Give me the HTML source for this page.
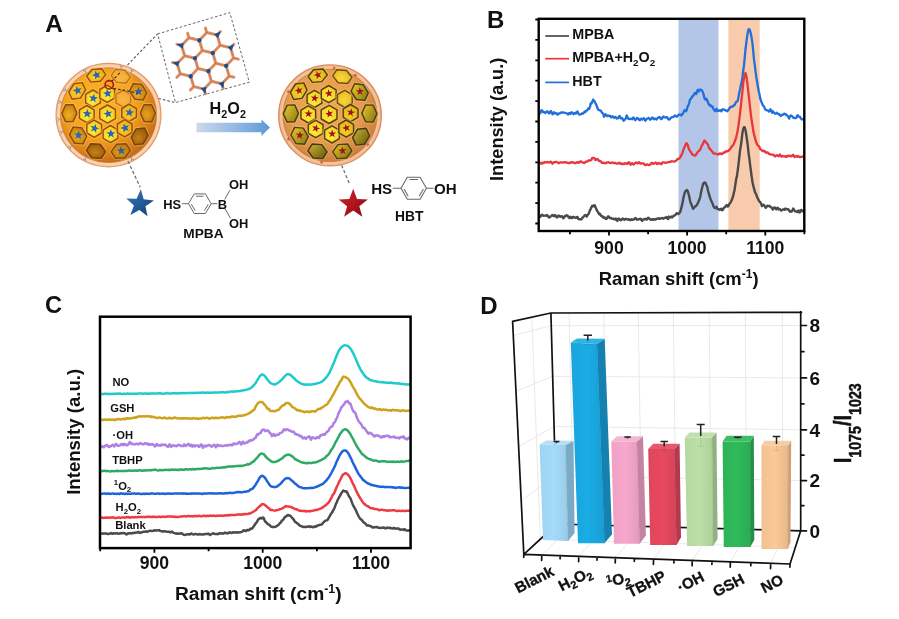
<!DOCTYPE html>
<html lang="en"><head><meta charset="utf-8"><title>Figure</title>
<style>html,body{margin:0;padding:0;background:#fff;}body{width:899px;height:619px;overflow:hidden;}svg{display:block;filter:blur(0.45px);}svg text{font-family:'Liberation Sans', sans-serif;font-weight:700;fill:#111;}</style></head><body>
<svg width="899" height="619" viewBox="0 0 899 619">
<rect width="899" height="619" fill="#fff"/>
<defs>
<radialGradient id="rim1" cx="0.5" cy="0.5" r="0.5"><stop offset="0.86" stop-color="#f3b27c"/><stop offset="0.94" stop-color="#f9d6b8"/><stop offset="1" stop-color="#f6c7a2"/></radialGradient>
<radialGradient id="rim2" cx="0.5" cy="0.5" r="0.5"><stop offset="0.86" stop-color="#e9a26c"/><stop offset="0.94" stop-color="#f4c6a0"/><stop offset="1" stop-color="#eeb48a"/></radialGradient>
<radialGradient id="body1" cx="0.42" cy="0.38" r="0.62"><stop offset="0" stop-color="#fbb622"/><stop offset="0.55" stop-color="#f6a41c"/><stop offset="0.85" stop-color="#ea8c1a"/><stop offset="1" stop-color="#dc7c1e"/></radialGradient>
<radialGradient id="body2" cx="0.45" cy="0.4" r="0.62"><stop offset="0" stop-color="#f0ac52"/><stop offset="0.6" stop-color="#e89c4c"/><stop offset="1" stop-color="#dc8b45"/></radialGradient>
<radialGradient id="shade1" cx="0.4" cy="0.36" r="0.66"><stop offset="0.6" stop-color="#7a3a00" stop-opacity="0"/><stop offset="1" stop-color="#7a3a00" stop-opacity="0.22"/></radialGradient>
<radialGradient id="shade2" cx="0.45" cy="0.4" r="0.64"><stop offset="0.6" stop-color="#7a4a10" stop-opacity="0"/><stop offset="1" stop-color="#7a4a10" stop-opacity="0.2"/></radialGradient>
<radialGradient id="hx0" cx="0.45" cy="0.6" r="0.7"><stop offset="0" stop-color="#fff238"/><stop offset="1" stop-color="#f8bc18"/></radialGradient>
<radialGradient id="hx1" cx="0.45" cy="0.6" r="0.7"><stop offset="0" stop-color="#fbd028"/><stop offset="1" stop-color="#f0a416"/></radialGradient>
<radialGradient id="hx2" cx="0.45" cy="0.6" r="0.7"><stop offset="0" stop-color="#f0b020"/><stop offset="1" stop-color="#c07810"/></radialGradient>
<radialGradient id="hx3" cx="0.45" cy="0.6" r="0.7"><stop offset="0" stop-color="#f8b840"/><stop offset="1" stop-color="#f2a42c"/></radialGradient>
<radialGradient id="hx4" cx="0.45" cy="0.6" r="0.7"><stop offset="0" stop-color="#d08c16"/><stop offset="1" stop-color="#94580c"/></radialGradient>
<radialGradient id="hy0" cx="0.45" cy="0.6" r="0.7"><stop offset="0" stop-color="#fff040"/><stop offset="1" stop-color="#f0c81c"/></radialGradient>
<radialGradient id="hy1" cx="0.45" cy="0.6" r="0.7"><stop offset="0" stop-color="#f4d62c"/><stop offset="1" stop-color="#d9aa18"/></radialGradient>
<linearGradient id="hy2" x1="0" y1="0.1" x2="1" y2="0.8"><stop offset="0" stop-color="#ecc82a"/><stop offset="1" stop-color="#8a8018"/></linearGradient>
<radialGradient id="hy3" cx="0.45" cy="0.6" r="0.7"><stop offset="0" stop-color="#f8d83a"/><stop offset="1" stop-color="#e8b41e"/></radialGradient>
<linearGradient id="hy4" x1="0" y1="0.1" x2="1" y2="0.8"><stop offset="0" stop-color="#d4b426"/><stop offset="1" stop-color="#66661a"/></linearGradient>
<linearGradient id="arr" x1="0" y1="0" x2="1" y2="0"><stop offset="0" stop-color="#ccd8ea"/><stop offset="0.45" stop-color="#9dbde4"/><stop offset="1" stop-color="#5b9bd7"/></linearGradient>
<linearGradient id="bstar" x1="0" y1="0" x2="1" y2="1"><stop offset="0" stop-color="#3876b8"/><stop offset="0.5" stop-color="#235c9c"/><stop offset="1" stop-color="#163f70"/></linearGradient>
<linearGradient id="rstar" x1="0" y1="0" x2="1" y2="1"><stop offset="0" stop-color="#d02630"/><stop offset="0.5" stop-color="#b3151e"/><stop offset="1" stop-color="#7e0a10"/></linearGradient>
</defs>
<g id="panelA">
<text x="45.2" y="31.6" font-size="24.4">A</text>
<path d="M111.5 81.5 L157.6 33.9 M113.5 88.5 L126 90.5 L175.5 102.6" stroke="#5c5c5c" stroke-width="1.15" stroke-dasharray="2.6 2" fill="none"/>
<ellipse cx="108.5" cy="115.1" rx="52.4" ry="51.7" fill="url(#rim1)" stroke="#e69a63" stroke-width="1.3"/>
<ellipse cx="108.5" cy="115.1" rx="48" ry="47.3" fill="url(#body1)"/>
<ellipse cx="108.5" cy="115.1" rx="48" ry="47.3" fill="none" stroke="#d77f3a" stroke-width="1.1" opacity="0.8"/>
<polygon points="105.8,74.6 100.3,81.3 90.8,82.1 86.6,76.2 92.1,69.5 101.6,68.7" fill="none" stroke="#f9c264" stroke-width="3.6" stroke-linejoin="round" opacity="0.6"/>
<polygon points="105.8,74.6 100.3,81.3 90.8,82.1 86.6,76.2 92.1,69.5 101.6,68.7" fill="url(#hx1)" stroke="#9a4e08" stroke-width="1.45" stroke-linejoin="round"/>
<polygon points="95,70.7 97.2,73.2 100.3,72.2 98.6,75 100.5,77.7 97.3,77 95.3,79.6 95,76.3 91.9,75.3 94.9,74" fill="#2a66ae"/>
<polygon points="130.4,77 126.2,83.2 116.6,82.4 111.2,75.6 115.4,69.4 125,70.2" fill="none" stroke="#f9c264" stroke-width="3.6" stroke-linejoin="round" opacity="0.6"/>
<polygon points="130.4,77 126.2,83.2 116.6,82.4 111.2,75.6 115.4,69.4 125,70.2" fill="url(#hx3)" stroke="#bf7420" stroke-width="1.45" stroke-linejoin="round"/>
<polygon points="85.6,89.8 80.4,98.1 72.1,99.2 68.8,92 74,83.7 82.3,82.6" fill="none" stroke="#f9c264" stroke-width="3.6" stroke-linejoin="round" opacity="0.6"/>
<polygon points="85.6,89.8 80.4,98.1 72.1,99.2 68.8,92 74,83.7 82.3,82.6" fill="url(#hx1)" stroke="#9a4e08" stroke-width="1.45" stroke-linejoin="round"/>
<polygon points="76.5,86 78.3,88.7 81.6,88.1 79.6,90.7 81.2,93.6 78.1,92.5 75.8,95 75.9,91.7 72.9,90.3 76.1,89.3" fill="#2a66ae"/>
<polygon points="100.4,102.9 93,107.2 85.6,102.9 85.6,94.3 93,90 100.4,94.3" fill="none" stroke="#f9c264" stroke-width="3.6" stroke-linejoin="round" opacity="0.6"/>
<polygon points="100.4,102.9 93,107.2 85.6,102.9 85.6,94.3 93,90 100.4,94.3" fill="url(#hx0)" stroke="#9a4e08" stroke-width="1.45" stroke-linejoin="round"/>
<polygon points="94.1,93.7 94.8,96.9 98,97.6 95.2,99.2 95.5,102.5 93.1,100.3 90.1,101.6 91.4,98.6 89.2,96.2 92.5,96.5" fill="#2a66ae"/>
<polygon points="114.6,98.1 107.2,102.4 99.8,98.1 99.8,89.5 107.2,85.2 114.6,89.5" fill="none" stroke="#f9c264" stroke-width="3.6" stroke-linejoin="round" opacity="0.6"/>
<polygon points="114.6,98.1 107.2,102.4 99.8,98.1 99.8,89.5 107.2,85.2 114.6,89.5" fill="url(#hx0)" stroke="#9a4e08" stroke-width="1.45" stroke-linejoin="round"/>
<polygon points="106.9,88.8 108.5,91.7 111.8,91.4 109.6,93.8 110.9,96.9 107.9,95.5 105.4,97.6 105.8,94.4 103,92.7 106.2,92.1" fill="#2a66ae"/>
<polygon points="130.7,102.9 123.3,107.2 115.9,102.9 115.9,94.3 123.3,90 130.7,94.3" fill="none" stroke="#f9c264" stroke-width="3.6" stroke-linejoin="round" opacity="0.6"/>
<polygon points="130.7,102.9 123.3,107.2 115.9,102.9 115.9,94.3 123.3,90 130.7,94.3" fill="url(#hx3)" stroke="#bf7420" stroke-width="1.45" stroke-linejoin="round"/>
<polygon points="146.8,92.7 143.3,100.1 134.7,99.2 129.6,90.9 133.1,83.5 141.7,84.4" fill="none" stroke="#f9c264" stroke-width="3.6" stroke-linejoin="round" opacity="0.6"/>
<polygon points="146.8,92.7 143.3,100.1 134.7,99.2 129.6,90.9 133.1,83.5 141.7,84.4" fill="url(#hx2)" stroke="#8e4a0a" stroke-width="1.45" stroke-linejoin="round"/>
<polygon points="138.4,86.8 139.7,89.8 143,89.9 140.5,92.1 141.5,95.2 138.7,93.5 136,95.4 136.7,92.2 134.1,90.2 137.4,89.9" fill="#2a66ae"/>
<polygon points="77,113.1 73.1,121.6 65.5,121.7 61.8,113.3 65.7,104.8 73.3,104.7" fill="none" stroke="#f9c264" stroke-width="3.6" stroke-linejoin="round" opacity="0.6"/>
<polygon points="77,113.1 73.1,121.6 65.5,121.7 61.8,113.3 65.7,104.8 73.3,104.7" fill="url(#hx2)" stroke="#8e4a0a" stroke-width="1.45" stroke-linejoin="round"/>
<polygon points="94.2,118.4 86.8,122.7 79.4,118.4 79.4,109.8 86.8,105.5 94.2,109.8" fill="none" stroke="#f9c264" stroke-width="3.6" stroke-linejoin="round" opacity="0.6"/>
<polygon points="94.2,118.4 86.8,122.7 79.4,118.4 79.4,109.8 86.8,105.5 94.2,109.8" fill="url(#hx0)" stroke="#9a4e08" stroke-width="1.45" stroke-linejoin="round"/>
<polygon points="87.5,109.1 88.5,112.3 91.8,112.7 89.1,114.5 89.7,117.8 87.1,115.8 84.2,117.4 85.3,114.3 82.8,112 86.1,112.1" fill="#2a66ae"/>
<polygon points="115.5,118.6 107.6,123.2 99.7,118.6 99.7,109.5 107.6,105 115.5,109.5" fill="none" stroke="#f9c264" stroke-width="3.6" stroke-linejoin="round" opacity="0.6"/>
<polygon points="115.5,118.6 107.6,123.2 99.7,118.6 99.7,109.5 107.6,105 115.5,109.5" fill="url(#hx0)" stroke="#9a4e08" stroke-width="1.45" stroke-linejoin="round"/>
<polygon points="106.9,109.2 108.8,112 112,111.4 110,114 111.5,116.9 108.4,115.7 106.2,118.1 106.3,114.8 103.3,113.4 106.5,112.5" fill="#2a66ae"/>
<polygon points="136.5,117.1 129.1,121.4 121.7,117.1 121.7,108.5 129.1,104.2 136.5,108.5" fill="none" stroke="#f9c264" stroke-width="3.6" stroke-linejoin="round" opacity="0.6"/>
<polygon points="136.5,117.1 129.1,121.4 121.7,117.1 121.7,108.5 129.1,104.2 136.5,108.5" fill="url(#hx1)" stroke="#9a4e08" stroke-width="1.45" stroke-linejoin="round"/>
<polygon points="130.3,107.9 130.9,111.1 134.2,111.8 131.3,113.4 131.6,116.7 129.2,114.5 126.1,115.8 127.5,112.8 125.4,110.3 128.6,110.7" fill="#2a66ae"/>
<polygon points="155.5,113.3 151.8,121.7 144.2,121.6 140.3,113.1 144,104.7 151.6,104.8" fill="none" stroke="#f9c264" stroke-width="3.6" stroke-linejoin="round" opacity="0.6"/>
<polygon points="155.5,113.3 151.8,121.7 144.2,121.6 140.3,113.1 144,104.7 151.6,104.8" fill="url(#hx2)" stroke="#8e4a0a" stroke-width="1.45" stroke-linejoin="round"/>
<polygon points="101.6,133 94.2,137.3 86.8,133 86.8,124.4 94.2,120.1 101.6,124.4" fill="none" stroke="#f9c264" stroke-width="3.6" stroke-linejoin="round" opacity="0.6"/>
<polygon points="101.6,133 94.2,137.3 86.8,133 86.8,124.4 94.2,120.1 101.6,124.4" fill="url(#hx0)" stroke="#9a4e08" stroke-width="1.45" stroke-linejoin="round"/>
<polygon points="95.9,123.9 96.2,127.2 99.3,128.2 96.3,129.5 96.2,132.8 94,130.3 90.9,131.3 92.6,128.5 90.7,125.8 93.9,126.5" fill="#2a66ae"/>
<polygon points="117.9,138.4 110.5,142.7 103.1,138.4 103.1,129.8 110.5,125.5 117.9,129.8" fill="none" stroke="#f9c264" stroke-width="3.6" stroke-linejoin="round" opacity="0.6"/>
<polygon points="117.9,138.4 110.5,142.7 103.1,138.4 103.1,129.8 110.5,125.5 117.9,129.8" fill="url(#hx0)" stroke="#9a4e08" stroke-width="1.45" stroke-linejoin="round"/>
<polygon points="110.8,129.1 112,132.2 115.3,132.3 112.8,134.4 113.7,137.6 110.9,135.8 108.2,137.7 109,134.5 106.4,132.4 109.7,132.2" fill="#2a66ae"/>
<polygon points="132.1,132.6 124.7,136.9 117.3,132.6 117.3,124 124.7,119.7 132.1,124" fill="none" stroke="#f9c264" stroke-width="3.6" stroke-linejoin="round" opacity="0.6"/>
<polygon points="132.1,132.6 124.7,136.9 117.3,132.6 117.3,124 124.7,119.7 132.1,124" fill="url(#hx1)" stroke="#9a4e08" stroke-width="1.45" stroke-linejoin="round"/>
<polygon points="123.6,123.5 125.7,126.1 128.9,125.2 127.1,128 128.9,130.8 125.7,129.9 123.6,132.5 123.5,129.2 120.4,128 123.5,126.8" fill="#2a66ae"/>
<polygon points="86.8,136.3 83.1,143.9 74.4,143.2 69.4,134.7 73.1,127.1 81.8,127.8" fill="none" stroke="#f9c264" stroke-width="3.6" stroke-linejoin="round" opacity="0.6"/>
<polygon points="86.8,136.3 83.1,143.9 74.4,143.2 69.4,134.7 73.1,127.1 81.8,127.8" fill="url(#hx2)" stroke="#8e4a0a" stroke-width="1.45" stroke-linejoin="round"/>
<polygon points="78.9,130.5 79.8,133.7 83.1,134.1 80.3,136 80.9,139.2 78.3,137.2 75.4,138.7 76.6,135.6 74.2,133.4 77.5,133.5" fill="#2a66ae"/>
<polygon points="148.1,135.5 143.1,143.9 134.6,144.8 131.1,137.3 136.1,128.9 144.6,128" fill="none" stroke="#f9c264" stroke-width="3.6" stroke-linejoin="round" opacity="0.6"/>
<polygon points="148.1,135.5 143.1,143.9 134.6,144.8 131.1,137.3 136.1,128.9 144.6,128" fill="url(#hx4)" stroke="#7a3e08" stroke-width="1.45" stroke-linejoin="round"/>
<polygon points="105.6,151.6 101.3,158.3 91.7,157.7 86.4,150.4 90.7,143.7 100.3,144.3" fill="none" stroke="#f9c264" stroke-width="3.6" stroke-linejoin="round" opacity="0.6"/>
<polygon points="105.6,151.6 101.3,158.3 91.7,157.7 86.4,150.4 90.7,143.7 100.3,144.3" fill="url(#hx4)" stroke="#7a3e08" stroke-width="1.45" stroke-linejoin="round"/>
<polygon points="130.4,150.4 125.1,157.7 115.5,158.3 111.2,151.6 116.5,144.3 126.1,143.7" fill="none" stroke="#f9c264" stroke-width="3.6" stroke-linejoin="round" opacity="0.6"/>
<polygon points="130.4,150.4 125.1,157.7 115.5,158.3 111.2,151.6 116.5,144.3 126.1,143.7" fill="url(#hx2)" stroke="#8e4a0a" stroke-width="1.45" stroke-linejoin="round"/>
<polygon points="120.7,146 122.2,149 125.5,148.8 123.2,151.1 124.3,154.2 121.4,152.7 118.9,154.8 119.4,151.5 116.6,149.7 119.9,149.2" fill="#2a66ae"/>
<ellipse cx="108.5" cy="115.1" rx="48" ry="47.3" fill="url(#shade1)"/>
<ellipse cx="330" cy="115.4" rx="51.3" ry="50.5" fill="url(#rim2)" stroke="#dc8a54" stroke-width="1.3"/>
<ellipse cx="330" cy="115.4" rx="46.9" ry="46.1" fill="url(#body2)"/>
<ellipse cx="330" cy="115.4" rx="46.9" ry="46.1" fill="none" stroke="#c9803f" stroke-width="1.1" opacity="0.8"/>
<polygon points="327.3,74.9 321.8,81.6 312.3,82.4 308.1,76.5 313.6,69.8 323.1,69" fill="none" stroke="#f2b676" stroke-width="3.6" stroke-linejoin="round" opacity="0.6"/>
<polygon points="327.3,74.9 321.8,81.6 312.3,82.4 308.1,76.5 313.6,69.8 323.1,69" fill="url(#hy1)" stroke="#54400a" stroke-width="1.45" stroke-linejoin="round"/>
<polygon points="316.4,71.1 318.4,73.5 321.3,72.5 319.6,75 321.5,77.5 318.5,76.7 316.7,79.2 316.6,76.1 313.6,75.3 316.5,74.1" fill="#a3121a"/>
<polygon points="351.9,77.3 347.7,83.5 338.1,82.7 332.7,75.9 336.9,69.7 346.5,70.5" fill="none" stroke="#f2b676" stroke-width="3.6" stroke-linejoin="round" opacity="0.6"/>
<polygon points="351.9,77.3 347.7,83.5 338.1,82.7 332.7,75.9 336.9,69.7 346.5,70.5" fill="url(#hy3)" stroke="#6e4e10" stroke-width="1.45" stroke-linejoin="round"/>
<polygon points="307.1,90.1 301.9,98.4 293.6,99.5 290.3,92.3 295.5,84 303.8,82.9" fill="none" stroke="#f2b676" stroke-width="3.6" stroke-linejoin="round" opacity="0.6"/>
<polygon points="307.1,90.1 301.9,98.4 293.6,99.5 290.3,92.3 295.5,84 303.8,82.9" fill="url(#hy1)" stroke="#54400a" stroke-width="1.45" stroke-linejoin="round"/>
<polygon points="297.9,86.4 299.5,89 302.5,88.3 300.6,90.7 302.2,93.4 299.3,92.2 297.3,94.6 297.5,91.5 294.6,90.3 297.6,89.5" fill="#a3121a"/>
<polygon points="321.9,103.2 314.5,107.5 307.1,103.2 307.1,94.6 314.5,90.3 321.9,94.6" fill="none" stroke="#f2b676" stroke-width="3.6" stroke-linejoin="round" opacity="0.6"/>
<polygon points="321.9,103.2 314.5,107.5 307.1,103.2 307.1,94.6 314.5,90.3 321.9,94.6" fill="url(#hy0)" stroke="#54400a" stroke-width="1.45" stroke-linejoin="round"/>
<polygon points="315.4,94.1 315.9,97.1 318.9,97.6 316.2,99.1 316.7,102.1 314.4,100 311.7,101.3 313,98.6 310.9,96.3 313.9,96.8" fill="#a3121a"/>
<polygon points="336.1,98.4 328.7,102.7 321.3,98.4 321.3,89.8 328.7,85.5 336.1,89.8" fill="none" stroke="#f2b676" stroke-width="3.6" stroke-linejoin="round" opacity="0.6"/>
<polygon points="336.1,98.4 328.7,102.7 321.3,98.4 321.3,89.8 328.7,85.5 336.1,89.8" fill="url(#hy0)" stroke="#54400a" stroke-width="1.45" stroke-linejoin="round"/>
<polygon points="328.3,89.2 329.7,92 332.8,91.6 330.6,93.8 331.9,96.6 329.1,95.2 326.9,97.3 327.4,94.2 324.7,92.8 327.7,92.3" fill="#a3121a"/>
<polygon points="352.2,103.2 344.8,107.5 337.4,103.2 337.4,94.6 344.8,90.3 352.2,94.6" fill="none" stroke="#f2b676" stroke-width="3.6" stroke-linejoin="round" opacity="0.6"/>
<polygon points="352.2,103.2 344.8,107.5 337.4,103.2 337.4,94.6 344.8,90.3 352.2,94.6" fill="url(#hy3)" stroke="#6e4e10" stroke-width="1.45" stroke-linejoin="round"/>
<polygon points="368.3,93 364.8,100.4 356.2,99.5 351.1,91.2 354.6,83.8 363.2,84.7" fill="none" stroke="#f2b676" stroke-width="3.6" stroke-linejoin="round" opacity="0.6"/>
<polygon points="368.3,93 364.8,100.4 356.2,99.5 351.1,91.2 354.6,83.8 363.2,84.7" fill="url(#hy2)" stroke="#4a400e" stroke-width="1.45" stroke-linejoin="round"/>
<polygon points="359.7,87.2 360.9,90.1 363.9,90 361.5,92 362.5,94.9 360,93.2 357.5,95.1 358.3,92.1 355.8,90.3 358.9,90.2" fill="#a3121a"/>
<polygon points="298.5,113.4 294.6,121.9 287,122 283.3,113.6 287.2,105.1 294.8,105" fill="none" stroke="#f2b676" stroke-width="3.6" stroke-linejoin="round" opacity="0.6"/>
<polygon points="298.5,113.4 294.6,121.9 287,122 283.3,113.6 287.2,105.1 294.8,105" fill="url(#hy2)" stroke="#4a400e" stroke-width="1.45" stroke-linejoin="round"/>
<polygon points="315.7,118.7 308.3,123 300.9,118.7 300.9,110.1 308.3,105.8 315.7,110.1" fill="none" stroke="#f2b676" stroke-width="3.6" stroke-linejoin="round" opacity="0.6"/>
<polygon points="315.7,118.7 308.3,123 300.9,118.7 300.9,110.1 308.3,105.8 315.7,110.1" fill="url(#hy0)" stroke="#54400a" stroke-width="1.45" stroke-linejoin="round"/>
<polygon points="308.8,109.5 309.6,112.5 312.7,112.8 310.1,114.4 310.8,117.4 308.4,115.5 305.7,117.1 306.9,114.2 304.5,112.2 307.6,112.4" fill="#a3121a"/>
<polygon points="337,119 329.1,123.5 321.2,119 321.2,109.9 329.1,105.3 337,109.8" fill="none" stroke="#f2b676" stroke-width="3.6" stroke-linejoin="round" opacity="0.6"/>
<polygon points="337,119 329.1,123.5 321.2,119 321.2,109.9 329.1,105.3 337,109.8" fill="url(#hy0)" stroke="#54400a" stroke-width="1.45" stroke-linejoin="round"/>
<polygon points="328.3,109.6 330,112.2 333,111.6 331,113.9 332.5,116.6 329.7,115.5 327.6,117.8 327.8,114.7 325,113.4 328,112.7" fill="#a3121a"/>
<polygon points="358,117.4 350.6,121.7 343.2,117.4 343.2,108.8 350.6,104.5 358,108.8" fill="none" stroke="#f2b676" stroke-width="3.6" stroke-linejoin="round" opacity="0.6"/>
<polygon points="358,117.4 350.6,121.7 343.2,117.4 343.2,108.8 350.6,104.5 358,108.8" fill="url(#hy1)" stroke="#54400a" stroke-width="1.45" stroke-linejoin="round"/>
<polygon points="351.5,108.3 352,111.3 355.1,111.9 352.3,113.3 352.7,116.4 350.5,114.2 347.7,115.5 349.1,112.7 347,110.5 350.1,111" fill="#a3121a"/>
<polygon points="377,113.6 373.3,122 365.7,121.9 361.8,113.4 365.5,105 373.1,105.1" fill="none" stroke="#f2b676" stroke-width="3.6" stroke-linejoin="round" opacity="0.6"/>
<polygon points="377,113.6 373.3,122 365.7,121.9 361.8,113.4 365.5,105 373.1,105.1" fill="url(#hy2)" stroke="#4a400e" stroke-width="1.45" stroke-linejoin="round"/>
<polygon points="323.1,133.3 315.7,137.6 308.3,133.3 308.3,124.7 315.7,120.4 323.1,124.7" fill="none" stroke="#f2b676" stroke-width="3.6" stroke-linejoin="round" opacity="0.6"/>
<polygon points="323.1,133.3 315.7,137.6 308.3,133.3 308.3,124.7 315.7,120.4 323.1,124.7" fill="url(#hy0)" stroke="#54400a" stroke-width="1.45" stroke-linejoin="round"/>
<polygon points="317.1,124.3 317.2,127.4 320.2,128.2 317.3,129.4 317.4,132.4 315.4,130 312.5,131 314.2,128.5 312.3,126 315.3,126.8" fill="#a3121a"/>
<polygon points="339.4,138.7 332,143 324.6,138.7 324.6,130.1 332,125.8 339.4,130.1" fill="none" stroke="#f2b676" stroke-width="3.6" stroke-linejoin="round" opacity="0.6"/>
<polygon points="339.4,138.7 332,143 324.6,138.7 324.6,130.1 332,125.8 339.4,130.1" fill="url(#hy0)" stroke="#54400a" stroke-width="1.45" stroke-linejoin="round"/>
<polygon points="332.1,129.5 333.2,132.4 336.3,132.4 333.8,134.3 334.8,137.2 332.2,135.5 329.7,137.3 330.6,134.4 328.1,132.5 331.2,132.4" fill="#a3121a"/>
<polygon points="353.6,132.9 346.2,137.2 338.8,132.9 338.8,124.3 346.2,120 353.6,124.3" fill="none" stroke="#f2b676" stroke-width="3.6" stroke-linejoin="round" opacity="0.6"/>
<polygon points="353.6,132.9 346.2,137.2 338.8,132.9 338.8,124.3 346.2,120 353.6,124.3" fill="url(#hy1)" stroke="#54400a" stroke-width="1.45" stroke-linejoin="round"/>
<polygon points="345.1,123.9 346.9,126.4 349.9,125.5 348.1,128 349.9,130.5 346.9,129.6 345.1,132.1 345,129 342.1,128 345,127" fill="#a3121a"/>
<polygon points="308.3,136.6 304.6,144.2 295.9,143.5 290.9,135 294.6,127.4 303.3,128.1" fill="none" stroke="#f2b676" stroke-width="3.6" stroke-linejoin="round" opacity="0.6"/>
<polygon points="308.3,136.6 304.6,144.2 295.9,143.5 290.9,135 294.6,127.4 303.3,128.1" fill="url(#hy2)" stroke="#4a400e" stroke-width="1.45" stroke-linejoin="round"/>
<polygon points="300.2,130.9 300.9,133.9 304,134.2 301.4,135.9 302,138.9 299.7,136.9 297,138.4 298.1,135.6 295.8,133.5 298.9,133.7" fill="#a3121a"/>
<polygon points="369.6,135.8 364.6,144.2 356.1,145.1 352.6,137.6 357.6,129.2 366.1,128.3" fill="none" stroke="#f2b676" stroke-width="3.6" stroke-linejoin="round" opacity="0.6"/>
<polygon points="369.6,135.8 364.6,144.2 356.1,145.1 352.6,137.6 357.6,129.2 366.1,128.3" fill="url(#hy4)" stroke="#40380e" stroke-width="1.45" stroke-linejoin="round"/>
<polygon points="327.1,151.9 322.8,158.6 313.2,158 307.9,150.7 312.2,144 321.8,144.6" fill="none" stroke="#f2b676" stroke-width="3.6" stroke-linejoin="round" opacity="0.6"/>
<polygon points="327.1,151.9 322.8,158.6 313.2,158 307.9,150.7 312.2,144 321.8,144.6" fill="url(#hy4)" stroke="#40380e" stroke-width="1.45" stroke-linejoin="round"/>
<polygon points="351.9,150.7 346.6,158 337,158.6 332.7,151.9 338,144.6 347.6,144" fill="none" stroke="#f2b676" stroke-width="3.6" stroke-linejoin="round" opacity="0.6"/>
<polygon points="351.9,150.7 346.6,158 337,158.6 332.7,151.9 338,144.6 347.6,144" fill="url(#hy2)" stroke="#4a400e" stroke-width="1.45" stroke-linejoin="round"/>
<polygon points="342.1,146.4 343.4,149.2 346.4,149 344.2,151.1 345.4,153.9 342.7,152.4 340.4,154.4 340.9,151.4 338.3,149.8 341.4,149.4" fill="#a3121a"/>
<ellipse cx="330" cy="115.4" rx="46.9" ry="46.1" fill="url(#shade2)"/>
<path d="M111.5 81.5 L120 72.6 M113.5 88.5 L126 90.5 L138 93.4" stroke="#3a2a1a" stroke-width="1.1" stroke-dasharray="2.6 2" fill="none"/>
<circle cx="109.2" cy="84.8" r="4.2" fill="none" stroke="#b5161c" stroke-width="1.6"/>
<path d="M67.4 91.3 L65.6 90.3 M64.8 87.8 L65.6 90.3 L63 90.9 M62.6 102.8 L60.7 102.3 M59.2 100 L60.7 102.3 L58.3 103.5 M61.2 119.2 L59.2 119.4 M57 117.8 L59.2 119.4 L57.4 121.4 M63.9 131.3 L62 132 M59.5 131 L62 132 L60.7 134.4 M72.1 145.6 L70.6 146.9 M67.9 146.8 L70.6 146.9 L70.2 149.6 M86.2 157 L85.3 158.8 M82.7 159.7 L85.3 158.8 L85.9 161.4 M130.8 157 L131.7 158.8 M131.1 161.4 L131.7 158.8 L134.3 159.7 M130.8 73.2 L131.7 71.4 M134.3 70.5 L131.7 71.4 L131.1 68.8 M120.8 69.2 L121.3 67.3 M123.6 65.8 L121.3 67.3 L120.1 64.9 M86.2 73.2 L85.3 71.4 M85.9 68.8 L85.3 71.4 L82.7 70.5" stroke="#7d8aa0" stroke-width="0.9" fill="none" opacity="0.85"/>
<polygon points="332.1,68 333.5,67.6 333.7,66.1 334.5,67.4 336,67.1 335.1,68.3 335.8,69.6 334.4,69.1 333.4,70.1 333.4,68.6" fill="#c8452e" opacity="0.85"/>
<polygon points="353.7,74.1 355.1,74.4 355.9,73.2 356.1,74.6 357.5,75.1 356.2,75.7 356.2,77.1 355.2,76.1 353.8,76.6 354.5,75.3" fill="#c8452e" opacity="0.85"/>
<polygon points="369.1,142.9 368.7,144.3 369.8,145.3 368.3,145.3 367.8,146.7 367.3,145.3 365.8,145.2 367,144.3 366.7,142.8 367.9,143.7" fill="#c8452e" opacity="0.85"/>
<polygon points="287.4,93.5 287.6,92.1 286.4,91.3 287.8,91 288.2,89.6 288.9,90.9 290.3,90.8 289.3,91.9 289.8,93.3 288.5,92.6" fill="#c8452e" opacity="0.85"/>
<polygon points="289.5,140.9 288.3,140 287,140.7 287.6,139.3 286.5,138.2 288,138.3 288.7,137 289,138.4 290.5,138.7 289.3,139.5" fill="#c8452e" opacity="0.85"/>
<polygon points="323.7,162.4 322.3,162.7 322,164.2 321.2,162.9 319.8,163 320.8,161.9 320.2,160.6 321.5,161.2 322.7,160.2 322.5,161.7" fill="#c8452e" opacity="0.85"/>
<polygon points="157.6,33.9 229.8,12.6 249.3,82.2 175.5,102.6" fill="#fff" stroke="#666" stroke-width="1.0" stroke-dasharray="2.6 2"/>
<g transform="translate(205.4 60.8) rotate(-16.4)">
<path d="M-9.3 -5.4 L-0 -10.7 M0 21.4 L-9.3 26.8 M-0 -21.4 L9.3 -26.7 M9.3 -26.7 L18.5 -21.4 M-0 -10.7 L-0 -21.4 M18.5 -10.7 L27.8 -5.4 M9.3 5.3 L9.3 -5.4 M-27.8 -5.3 L-18.5 -10.7 M0 10.7 L0 21.4 M-9.3 26.8 L-18.5 21.4 M18.5 10.7 L18.5 21.4 M-18.5 -10.7 L-18.5 -21.4 M-0 -10.7 L9.3 -5.4 M-9.3 -5.4 L-18.5 -10.7 M-18.5 21.4 L-18.5 10.7 M9.3 5.3 L0 10.7 M9.3 5.3 L18.5 10.7 M0 10.7 L-9.3 5.3 M18.5 21.4 L9.3 26.7 M18.5 -10.7 L18.5 -21.4 M-18.5 -21.4 L-9.3 -26.7 M27.8 5.3 L18.5 10.7 M-18.5 10.7 L-27.8 5.4 M-9.3 -26.7 L-0 -21.4 M9.3 -5.4 L18.5 -10.7 M-9.3 5.3 L-9.3 -5.4 M9.3 26.7 L0 21.4 M-9.3 5.3 L-18.5 10.7 M27.8 5.3 L27.8 -5.4 M-27.8 5.4 L-27.8 -5.3 M-9.3 26.8 L-9.3 31.6 M9.3 -26.7 L9.3 -31.5 M18.5 -21.4 L22.7 -23.8 M27.8 -5.4 L32 -7.8 M-27.8 -5.3 L-32 -7.7 M-18.5 21.4 L-22.7 23.8 M18.5 21.4 L22.7 23.8 M-18.5 -21.4 L-22.7 -23.8 M9.3 26.7 L9.3 31.5 M-9.3 -26.7 L-9.3 -31.5 M27.8 5.3 L32 7.7 M-27.8 5.4 L-32 7.8" stroke="#e0916a" stroke-width="3.0" stroke-linecap="round" fill="none"/>
<path d="M-9.3 -5.4 L-0 -10.7 M0 21.4 L-9.3 26.8 M-0 -21.4 L9.3 -26.7 M9.3 -26.7 L18.5 -21.4 M-0 -10.7 L-0 -21.4 M18.5 -10.7 L27.8 -5.4 M9.3 5.3 L9.3 -5.4 M-27.8 -5.3 L-18.5 -10.7 M0 10.7 L0 21.4 M-9.3 26.8 L-18.5 21.4 M18.5 10.7 L18.5 21.4 M-18.5 -10.7 L-18.5 -21.4 M-0 -10.7 L9.3 -5.4 M-9.3 -5.4 L-18.5 -10.7 M-18.5 21.4 L-18.5 10.7 M9.3 5.3 L0 10.7 M9.3 5.3 L18.5 10.7 M0 10.7 L-9.3 5.3 M18.5 21.4 L9.3 26.7 M18.5 -10.7 L18.5 -21.4 M-18.5 -21.4 L-9.3 -26.7 M27.8 5.3 L18.5 10.7 M-18.5 10.7 L-27.8 5.4 M-9.3 -26.7 L-0 -21.4 M9.3 -5.4 L18.5 -10.7 M-9.3 5.3 L-9.3 -5.4 M9.3 26.7 L0 21.4 M-9.3 5.3 L-18.5 10.7 M27.8 5.3 L27.8 -5.4 M-27.8 5.4 L-27.8 -5.3 M-9.3 26.8 L-9.3 31.6 M9.3 -26.7 L9.3 -31.5 M18.5 -21.4 L22.7 -23.8 M27.8 -5.4 L32 -7.8 M-27.8 -5.3 L-32 -7.7 M-18.5 21.4 L-22.7 23.8 M18.5 21.4 L22.7 23.8 M-18.5 -21.4 L-22.7 -23.8 M9.3 26.7 L9.3 31.5 M-9.3 -26.7 L-9.3 -31.5 M27.8 5.3 L32 7.7 M-27.8 5.4 L-32 7.8" stroke="#b86a3e" stroke-width="0.8" stroke-linecap="round" stroke-dasharray="1.2 1.6" fill="none" opacity="0.8"/>
<circle cx="0" cy="10.7" r="2.2" fill="#1d4f8f"/>
<circle cx="-9.3" cy="-5.4" r="2.2" fill="#1d4f8f"/>
<circle cx="9.3" cy="-5.4" r="2.2" fill="#1d4f8f"/>
<circle cx="18.5" cy="10.7" r="2.2" fill="#1d4f8f"/>
<polygon points="32.1,-7.9 27.9,-2 25,-7.1" fill="#1d4f8f"/>
<polygon points="9.3,31.7 6.4,25.1 12.2,25.1" fill="#1d4f8f"/>
<polygon points="-9.3,31.8 -12.2,25.1 -6.4,25.1" fill="#1d4f8f"/>
<circle cx="-18.5" cy="10.7" r="2.2" fill="#1d4f8f"/>
<polygon points="-32.1,-7.8 -25,-7.1 -27.9,-2" fill="#1d4f8f"/>
<polygon points="-22.9,-23.9 -15.7,-23.1 -18.6,-18.1" fill="#1d4f8f"/>
<circle cx="-0" cy="-21.4" r="2.2" fill="#1d4f8f"/>
<polygon points="22.9,-23.9 18.6,-18.1 15.7,-23.1" fill="#1d4f8f"/>
</g>
<path d="M196.5 122.8 H261.4 V119.4 L270 127.6 L261.4 135.9 V132.3 H196.5 Z" fill="url(#arr)"/>
<text x="209.6" y="114.3" font-size="16.2">H<tspan dy="4" font-size="10.8">2</tspan><tspan dy="-4">O</tspan><tspan dy="4" font-size="10.8">2</tspan></text>
<path d="M128.0 161.2 L140.2 187.2" stroke="#7a6a66" stroke-width="1.3" stroke-dasharray="3.2 2.2" fill="none"/>
<path d="M341.6 165.2 L349.8 184.6" stroke="#7a6a66" stroke-width="1.3" stroke-dasharray="3.2 2.2" fill="none"/>
<polygon points="140.8,189.3 143.7,199.2 154,200.4 145.5,206.2 147.5,216.3 139.4,210 130.4,215.1 133.9,205.4 126.3,198.4 136.6,198.7" fill="url(#bstar)"/>
<polygon points="353.2,188.8 357,199 367.8,199.4 359.3,206.2 362.3,216.7 353.2,210.6 344.1,216.7 347.1,206.2 338.6,199.4 349.4,199" fill="url(#rstar)"/>
<text x="163.2" y="208.5" font-size="12.9">HS</text>
<path d="M181.8 203.7 H188.5 M211.1 203.7 H217.4 M224.7 199.4 L229.9 190.2 M225.1 208.8 L230.4 218.2" stroke="#6a6a6a" stroke-width="1" fill="none"/>
<polygon points="211.1,203.7 205.5,213.5 194.2,213.5 188.5,203.7 194.2,193.9 205.5,193.9" fill="none" stroke="#6a6a6a" stroke-width="1.0" stroke-linejoin="round"/>
<path d="M208.2 204.3 L204.5 210.6 M195.1 210.6 L191.4 204.3 M196.1 196.2 L203.5 196.2" stroke="#6a6a6a" stroke-width="1.0" fill="none"/>
<text x="217.8" y="208.5" font-size="12.9">B</text>
<text x="229.0" y="188.8" font-size="12.9">OH</text>
<text x="229.0" y="228.4" font-size="12.9">OH</text>
<text x="203.4" y="237.8" font-size="13.7" text-anchor="middle">MPBA</text>
<text x="371.2" y="193.6" font-size="15.1">HS</text>
<path d="M392.8 188.3 H401.4 M426 188.3 H433.6" stroke="#6a6a6a" stroke-width="1.1" fill="none"/>
<polygon points="426.4,188.2 420.1,199.2 407.3,199.2 401,188.2 407.3,177.2 420.1,177.2" fill="none" stroke="#6a6a6a" stroke-width="1.1" stroke-linejoin="round"/>
<path d="M423.4 188.9 L419.2 196.2 M408.2 196.2 L404 188.9 M409.5 179.5 L417.9 179.5" stroke="#6a6a6a" stroke-width="1.1" fill="none"/>
<text x="434.0" y="193.6" font-size="15.1">OH</text>
<text x="409.3" y="221.2" font-size="13.8" text-anchor="middle">HBT</text>
</g>
<g id="panelB">
<rect x="678.5" y="18.8" width="40" height="212.2" fill="#b4c6e7"/>
<rect x="728.4" y="18.8" width="31.3" height="212.2" fill="#f8cbad"/>
<polyline fill="none" stroke="#1f6fdc" stroke-width="2.3" stroke-linejoin="round" points="539.2,113.6 540,113.5 540.7,111.9 541.5,110.2 542.3,110.6 543.1,112.2 543.9,111.9 544.6,112.4 545.4,113.1 546.2,112.1 547,111.2 547.8,111.6 548.5,112.8 549.3,113.5 550.1,112.1 550.9,111 551.7,112.4 552.5,114.4 553.2,113.9 554,112.3 554.8,113.1 555.6,113.4 556.4,113.2 557.1,114.5 557.9,114.5 558.7,113.5 559.5,113.5 560.3,113.1 561.1,112.5 561.8,112.5 562.6,112.5 563.4,112.6 564.2,112.7 565,112.8 565.7,113 566.5,113.3 567.3,113.5 568.1,114.5 568.9,113.2 569.6,113.1 570.4,114 571.2,112.3 572,112.3 572.8,113.3 573.6,114.2 574.3,113.4 575.1,112.8 575.9,113.6 576.7,112.3 577.5,111.4 578.2,113 579,114.3 579.8,114.6 580.6,114.4 581.4,113.8 582.2,113.4 582.9,113.9 583.7,112.9 584.5,111.7 585.3,112.1 586.1,110.6 586.8,110.5 587.6,110.2 588.4,108.1 589.2,108.9 590,106.9 590.7,103.5 591.5,103.6 592.3,101.8 593.1,99.6 593.9,100.5 594.7,101.7 595.4,103 596.2,104.5 597,106.8 597.8,109 598.6,110 599.3,110.2 600.1,110.5 600.9,110.6 601.7,112.4 602.5,113.1 603.3,113.8 604,116.8 604.8,115.8 605.6,114.3 606.4,115 607.2,116.2 607.9,116.1 608.7,115.6 609.5,116 610.3,116 611.1,117.4 611.8,117 612.6,116.3 613.4,117.3 614.2,117.9 615,116.9 615.8,117.2 616.5,118.5 617.3,118.4 618.1,118.2 618.9,116.5 619.7,116 620.4,117.9 621.2,118.4 622,117.9 622.8,119.2 623.6,120.8 624.4,119.6 625.1,119.5 625.9,118.1 626.7,115.4 627.5,117.4 628.3,118.8 629,118.6 629.8,119.2 630.6,118.8 631.4,118.9 632.2,119.2 632.9,117.6 633.7,117.7 634.5,119 635.3,120.2 636.1,119.3 636.9,118 637.6,118.5 638.4,118.5 639.2,119.9 640,120.3 640.8,118.9 641.5,118.7 642.3,119.6 643.1,118.8 643.9,118.1 644.7,119.9 645.5,120.7 646.2,119.5 647,118.6 647.8,118.5 648.6,117.8 649.4,118.5 650.1,119.8 650.9,119.2 651.7,118.1 652.5,117.4 653.3,118.7 654,119.3 654.8,118.5 655.6,118.7 656.4,119.6 657.2,118.7 658,117.6 658.7,117.4 659.5,116.9 660.3,118 661.1,119.1 661.9,118.7 662.6,117.4 663.4,116.4 664.2,117.1 665,117.4 665.8,117.5 666.6,117.2 667.3,117.4 668.1,119.1 668.9,119.6 669.7,119.4 670.5,118.2 671.2,117.6 672,117.2 672.8,117.1 673.6,116.9 674.4,115.8 675.1,115.5 675.9,116.2 676.7,116.7 677.5,116.2 678.3,115 679.1,114.7 679.8,114.3 680.6,115 681.4,115.5 682.2,114.2 683,113.7 683.7,111.9 684.5,110.2 685.3,110.4 686.1,111.3 686.9,109.3 687.7,106.3 688.4,105.4 689.2,102.9 690,99.8 690.8,98.8 691.6,98 692.3,96.3 693.1,95.9 693.9,94.8 694.7,93 695.5,93.6 696.3,94 697,91.4 697.8,89.7 698.6,91.5 699.4,90.7 700.2,89.4 700.9,89.9 701.7,90.3 702.5,91.3 703.3,93.6 704.1,96.6 704.8,99.1 705.6,99.7 706.4,98.7 707.2,100.1 708,102.6 708.8,104.2 709.5,105.4 710.3,104.9 711.1,106.2 711.9,106.7 712.7,106.6 713.4,108.8 714.2,110 715,111.2 715.8,109.5 716.6,108.8 717.4,111.1 718.1,110.8 718.9,110.8 719.7,110.2 720.5,110.2 721.3,111.4 722,110.1 722.8,109.2 723.6,109.7 724.4,109.6 725.2,110.3 725.9,110.7 726.7,110.7 727.5,111.2 728.3,110 729.1,108.8 729.9,107.7 730.6,106.9 731.4,106.6 732.2,106.8 733,106.2 733.8,105.2 734.5,105.1 735.3,103.6 736.1,101.9 736.9,101.7 737.7,101 738.5,97 739.2,92.8 740,89.7 740.8,85.6 741.6,82.3 742.4,77.7 743.1,71.6 743.9,65.9 744.7,57.8 745.5,49.4 746.3,42.9 747,37.5 747.8,32.5 748.6,29.2 749.4,29.3 750.2,31.2 751,34.4 751.7,38.5 752.5,43.6 753.3,52 754.1,60.5 754.9,65.9 755.6,71.7 756.4,77.9 757.2,82.2 758,87.3 758.8,91.8 759.6,94.8 760.3,98.7 761.1,101.2 761.9,103 762.7,105 763.5,106 764.2,106.9 765,109.2 765.8,109.8 766.6,110.3 767.4,110.4 768.1,110.3 768.9,111.5 769.7,110.9 770.5,109.3 771.3,111.3 772.1,112.7 772.8,111.1 773.6,112.3 774.4,113.3 775.2,113.6 776,113.6 776.7,112.6 777.5,113.6 778.3,114.2 779.1,113.9 779.9,115.2 780.7,116 781.4,115.6 782.2,114.7 783,114.9 783.8,113.9 784.6,113.7 785.3,114.5 786.1,114.3 786.9,115.3 787.7,116 788.5,117.2 789.2,118.6 790,116.2 790.8,115.4 791.6,116.1 792.4,116.6 793.2,117.5 793.9,117.9 794.7,118.1 795.5,118.1 796.3,117.8 797.1,115.6 797.8,115.1 798.6,116.4 799.4,117 800.2,117 801,118.7 801.8,119.4 802.5,119.2 803.3,119.2 804.1,119.6"/>
<polyline fill="none" stroke="#e8363c" stroke-width="2.3" stroke-linejoin="round" points="539.2,162.8 540,162.7 540.7,163.5 541.5,163.5 542.3,162.6 543.1,163.3 543.9,162.9 544.6,162 545.4,162.4 546.2,162.5 547,162 547.8,162 548.5,162.3 549.3,162.6 550.1,162.1 550.9,161.6 551.7,162.7 552.5,163.7 553.2,162.7 554,162.2 554.8,162.4 555.6,161.8 556.4,161.8 557.1,162 557.9,162.7 558.7,163.1 559.5,162.8 560.3,162.4 561.1,162.3 561.8,162.4 562.6,162.7 563.4,162.5 564.2,162.2 565,162.4 565.7,162.4 566.5,162.5 567.3,162.6 568.1,163 568.9,162.9 569.6,163 570.4,162.9 571.2,162.1 572,162.2 572.8,162.5 573.6,162.6 574.3,162.9 575.1,163.3 575.9,162.9 576.7,162.4 577.5,162.1 578.2,162.8 579,162.9 579.8,161.8 580.6,161.4 581.4,161.6 582.2,162.3 582.9,162.5 583.7,162.8 584.5,163 585.3,162.1 586.1,161.5 586.8,161.7 587.6,161.5 588.4,160.5 589.2,160.5 590,160.5 590.7,160.3 591.5,159.8 592.3,157.8 593.1,157.8 593.9,158.1 594.7,158.4 595.4,160.1 596.2,159.7 597,159 597.8,159.1 598.6,160.3 599.3,161.2 600.1,161 600.9,161.3 601.7,162.6 602.5,163 603.3,162.6 604,162.9 604.8,163.2 605.6,163.4 606.4,162.8 607.2,162.3 607.9,162.4 608.7,162.2 609.5,163 610.3,163.2 611.1,162.7 611.8,162.7 612.6,162.5 613.4,163.1 614.2,163.2 615,162.8 615.8,163.2 616.5,163.6 617.3,163.7 618.1,163.6 618.9,162.7 619.7,162.9 620.4,163.8 621.2,164 622,163.5 622.8,164.1 623.6,163.9 624.4,163.3 625.1,163.8 625.9,163.3 626.7,163.7 627.5,163.8 628.3,162.6 629,162.2 629.8,163.3 630.6,164.7 631.4,163.9 632.2,163.1 632.9,164.2 633.7,164.5 634.5,163.8 635.3,163 636.1,162.5 636.9,162.8 637.6,163.3 638.4,162.7 639.2,162.2 640,163.2 640.8,163.7 641.5,163.3 642.3,163.3 643.1,163.3 643.9,163.8 644.7,164.8 645.5,165.2 646.2,164.8 647,164.3 647.8,164.6 648.6,165 649.4,165 650.1,164.7 650.9,163.9 651.7,162.8 652.5,163.3 653.3,163.9 654,163.5 654.8,163.1 655.6,162.6 656.4,163.5 657.2,164.1 658,163.1 658.7,163 659.5,163.5 660.3,163.4 661.1,164.1 661.9,163.8 662.6,162.4 663.4,162.3 664.2,162.5 665,162.6 665.8,162.8 666.6,162.7 667.3,162.3 668.1,162.2 668.9,162.1 669.7,162 670.5,161.9 671.2,161.2 672,161.3 672.8,161.3 673.6,161.5 674.4,161.7 675.1,161.1 675.9,160.7 676.7,160.2 677.5,158.8 678.3,158.8 679.1,158.8 679.8,157.8 680.6,156.8 681.4,155 682.2,153.4 683,151.1 683.7,148.9 684.5,147.2 685.3,145.2 686.1,143.4 686.9,143.4 687.7,145 688.4,147.4 689.2,149.5 690,151 690.8,151.9 691.6,153.3 692.3,154.6 693.1,154.7 693.9,155.3 694.7,155.7 695.5,155.3 696.3,154.2 697,153.1 697.8,152 698.6,151.2 699.4,150.6 700.2,149.5 700.9,147.9 701.7,145.7 702.5,144.8 703.3,143.1 704.1,140.8 704.8,140.6 705.6,141.7 706.4,142.7 707.2,143.6 708,144.9 708.8,147.1 709.5,148.7 710.3,149 711.1,150.3 711.9,151.3 712.7,152 713.4,153.4 714.2,153.7 715,153.5 715.8,153.7 716.6,153.8 717.4,154.3 718.1,154.6 718.9,154.1 719.7,153.5 720.5,153.5 721.3,154.1 722,153.9 722.8,153.4 723.6,152.4 724.4,152.6 725.2,152.4 725.9,151.2 726.7,151.3 727.5,151.3 728.3,151 729.1,150.1 729.9,149.3 730.6,148.5 731.4,147 732.2,146 733,145.2 733.8,143.8 734.5,142.1 735.3,140 736.1,137.6 736.9,134.2 737.7,130.4 738.5,125.7 739.2,119.7 740,113.8 740.8,106.7 741.6,98.7 742.4,91.9 743.1,84.6 743.9,78.7 744.7,74.6 745.5,73 746.3,75.5 747,80.5 747.8,87.1 748.6,94.1 749.4,101.3 750.2,108.8 751,115.6 751.7,120.8 752.5,125.5 753.3,131.1 754.1,134.6 754.9,137.4 755.6,140.4 756.4,142.7 757.2,144.4 758,145.5 758.8,146.3 759.6,147.3 760.3,149.4 761.1,149.6 761.9,150.3 762.7,151.1 763.5,151.2 764.2,150.8 765,151.6 765.8,152.7 766.6,152.4 767.4,152.5 768.1,152.6 768.9,153.8 769.7,154.2 770.5,154.3 771.3,154.6 772.1,154.6 772.8,154.6 773.6,154.8 774.4,156.1 775.2,156.3 776,155.6 776.7,155.2 777.5,155.5 778.3,156.3 779.1,155.4 779.9,154.4 780.7,155.9 781.4,156.7 782.2,156 783,156.1 783.8,156.5 784.6,156.7 785.3,156.2 786.1,156.7 786.9,156.9 787.7,155.8 788.5,155.6 789.2,155.9 790,156 790.8,156 791.6,156.3 792.4,155.2 793.2,154.8 793.9,156.4 794.7,157 795.5,156.4 796.3,155.9 797.1,156.7 797.8,156.8 798.6,156.2 799.4,157.1 800.2,157.1 801,156.7 801.8,156.8 802.5,156.6 803.3,156.3 804.1,156"/>
<polyline fill="none" stroke="#4a4a4a" stroke-width="2.4" stroke-linejoin="round" points="539.2,216.9 540,217.1 540.7,216.2 541.5,214.9 542.3,214.7 543.1,215.6 543.9,215.7 544.6,215.6 545.4,215.6 546.2,215.7 547,215 547.8,215.8 548.5,217.1 549.3,217.6 550.1,217.1 550.9,216 551.7,215.7 552.5,215 553.2,215.9 554,216.2 554.8,215 555.6,215.6 556.4,217.1 557.1,217.4 557.9,216 558.7,215.5 559.5,216.5 560.3,216.8 561.1,216.1 561.8,216.1 562.6,217 563.4,218.3 564.2,217.2 565,215.9 565.7,216.2 566.5,215.3 567.3,215.4 568.1,216.3 568.9,217.6 569.6,218.2 570.4,216.8 571.2,217.4 572,218.2 572.8,216.9 573.6,216.9 574.3,217.6 575.1,217.5 575.9,217.9 576.7,217.1 577.5,216.9 578.2,218.7 579,219.3 579.8,219.3 580.6,219.3 581.4,219.4 582.2,218 582.9,217.4 583.7,216.7 584.5,215.5 585.3,215 586.1,215.4 586.8,216.5 587.6,214.9 588.4,214.1 589.2,212.5 590,210.2 590.7,209.1 591.5,206.9 592.3,205.7 593.1,206.5 593.9,205.4 594.7,205.3 595.4,206.9 596.2,208.8 597,210.7 597.8,211.7 598.6,213.2 599.3,214.2 600.1,214 600.9,215.6 601.7,216.3 602.5,216.2 603.3,217.7 604,217.5 604.8,217.5 605.6,218.8 606.4,218.9 607.2,217.9 607.9,216.4 608.7,216.4 609.5,217.8 610.3,218.2 611.1,218 611.8,218.6 612.6,218.9 613.4,218.6 614.2,219.4 615,219 615.8,218.5 616.5,220.2 617.3,220.9 618.1,219 618.9,218.5 619.7,219.5 620.4,220.3 621.2,220.1 622,219.1 622.8,218.6 623.6,219.3 624.4,219.9 625.1,219.2 625.9,219 626.7,219 627.5,219.6 628.3,219.4 629,219.3 629.8,220.1 630.6,220.1 631.4,219.2 632.2,219.7 632.9,219.8 633.7,219.3 634.5,219.2 635.3,218 636.1,218.5 636.9,219.7 637.6,219.5 638.4,219.5 639.2,219.2 640,218.6 640.8,218.8 641.5,220.3 642.3,220.9 643.1,219.5 643.9,219.3 644.7,219.4 645.5,218.8 646.2,219.5 647,219.5 647.8,218 648.6,217.8 649.4,218.8 650.1,219.3 650.9,219.9 651.7,219.4 652.5,219.1 653.3,219.7 654,219.2 654.8,219.4 655.6,219.7 656.4,218.7 657.2,218.9 658,218.7 658.7,218.1 659.5,218.7 660.3,218.8 661.1,218.3 661.9,218 662.6,218.2 663.4,218.7 664.2,218.3 665,217.6 665.8,217.8 666.6,217 667.3,218.5 668.1,219.1 668.9,216.6 669.7,217.3 670.5,217.3 671.2,216.6 672,217.5 672.8,216.7 673.6,215.7 674.4,215.5 675.1,215.3 675.9,214.3 676.7,213.2 677.5,213.5 678.3,214 679.1,213.4 679.8,212.5 680.6,210.9 681.4,207.5 682.2,204.4 683,200.4 683.7,196.5 684.5,193.5 685.3,191.3 686.1,190.5 686.9,190.1 687.7,191.1 688.4,193.3 689.2,196.6 690,200.6 690.8,203.3 691.6,204.7 692.3,206.9 693.1,208.8 693.9,208 694.7,206.9 695.5,206.3 696.3,205.7 697,204.6 697.8,203.1 698.6,201.5 699.4,199.5 700.2,197 700.9,193.1 701.7,189.5 702.5,186.3 703.3,183.3 704.1,182.9 704.8,182.5 705.6,183.2 706.4,185.2 707.2,186.8 708,190.6 708.8,193.5 709.5,196 710.3,198.4 711.1,200.2 711.9,202.2 712.7,203.8 713.4,206.1 714.2,207.4 715,208.2 715.8,207.4 716.6,206.8 717.4,209 718.1,209 718.9,209.3 719.7,209.9 720.5,209 721.3,208.8 722,210.3 722.8,209.9 723.6,208.2 724.4,207.4 725.2,206.9 725.9,205.9 726.7,205.1 727.5,206.5 728.3,206.4 729.1,204.4 729.9,203.2 730.6,202.6 731.4,200.7 732.2,198.8 733,196.8 733.8,193 734.5,190.3 735.3,185.1 736.1,179.6 736.9,176.3 737.7,170.6 738.5,164.4 739.2,158 740,150.9 740.8,146 741.6,140.2 742.4,133.1 743.1,129.4 743.9,127.3 744.7,127.3 745.5,130.2 746.3,135 747,139.7 747.8,145.7 748.6,153.3 749.4,158.9 750.2,165.6 751,171.5 751.7,176.9 752.5,182.3 753.3,185.7 754.1,188.9 754.9,191.9 755.6,193.3 756.4,194.9 757.2,197.3 758,198.9 758.8,200.5 759.6,201.7 760.3,202.2 761.1,203.6 761.9,206.1 762.7,205.5 763.5,204.7 764.2,205.4 765,206.6 765.8,207.8 766.6,206.8 767.4,205.7 768.1,206 768.9,206 769.7,205.9 770.5,207 771.3,207.4 772.1,208.3 772.8,209.6 773.6,208.3 774.4,207.4 775.2,207.8 776,209.3 776.7,209.3 777.5,207.7 778.3,208.3 779.1,209.5 779.9,209.2 780.7,210 781.4,210.6 782.2,210 783,209.5 783.8,209.3 784.6,209.8 785.3,208.6 786.1,208.9 786.9,209.3 787.7,209.2 788.5,209.4 789.2,210.6 790,211.7 790.8,211.1 791.6,211.5 792.4,210.4 793.2,208.6 793.9,209.3 794.7,211.1 795.5,211.4 796.3,211.4 797.1,212 797.8,210.8 798.6,210.5 799.4,212.5 800.2,212.1 801,209.9 801.8,210.1 802.5,211.1 803.3,211.6 804.1,211.4"/>
<rect x="538.7" y="18.8" width="265.6" height="212.2" fill="none" stroke="#000" stroke-width="2.4"/>
<path d="M609 231 v4.6 M687.1 231 v4.6 M765.3 231 v4.6 M569.9 231 v3.2 M648.1 231 v3.2 M726.2 231 v3.2 M804.4 231 v3.2 M538.7 223.5 h-3.4 M538.7 203.1 h-3.4 M538.7 182.7 h-3.4 M538.7 162.3 h-3.4 M538.7 141.9 h-3.4 M538.7 121.5 h-3.4 M538.7 101.1 h-3.4 M538.7 80.7 h-3.4 M538.7 60.3 h-3.4 M538.7 39.9 h-3.4 M538.7 19.5 h-3.4" stroke="#000" stroke-width="1.8" fill="none"/>
<text x="609" y="253.9" font-size="17.6" text-anchor="middle">900</text>
<text x="687.1" y="253.9" font-size="17.6" text-anchor="middle">1000</text>
<text x="765.3" y="253.9" font-size="17.6" text-anchor="middle">1100</text>
<text x="678.6" y="284.6" font-size="18.4" text-anchor="middle">Raman shift (cm<tspan dy="-7" font-size="12">-1</tspan><tspan dy="7">)</tspan></text>
<text transform="translate(503.3 119.3) rotate(-90)" font-size="18.2" text-anchor="middle">Intensity (a.u.)</text>
<path d="M545.3 36 H569" stroke="#4a4a4a" stroke-width="1.7"/>
<text x="572.3" y="39.2" font-size="14.3">MPBA</text>
<path d="M545.3 58.7 H569" stroke="#e8363c" stroke-width="1.7"/>
<text x="572.3" y="61.9" font-size="14.3">MPBA+H<tspan dy="3.6" font-size="9.8">2</tspan><tspan dy="-3.6">O</tspan><tspan dy="3.6" font-size="9.8">2</tspan></text>
<path d="M545.3 82.4 H569" stroke="#1f6fdc" stroke-width="1.7"/>
<text x="572.3" y="85.6" font-size="14.3">HBT</text>
<text x="487.0" y="28.3" font-size="24">B</text>
</g>
<g id="panelC">
<polyline fill="none" stroke="#1fcacd" stroke-width="2.5" stroke-linejoin="round" stroke-linecap="round" points="100.5,393.9 101.4,393.9 102.2,394 103,393.9 103.8,393.9 104.6,393.8 105.4,393.7 106.2,393.8 107,394 107.9,394 108.7,393.8 109.5,393.9 110.3,394.1 111.1,393.9 111.9,393.8 112.7,393.9 113.5,393.8 114.3,393.9 115.2,393.7 116,393.7 116.8,393.7 117.6,393.6 118.4,393.7 119.2,393.6 120,393.5 120.8,393.7 121.7,393.9 122.5,393.9 123.3,393.8 124.1,393.8 124.9,393.9 125.7,394 126.5,393.7 127.3,393.5 128.2,393.6 129,393.9 129.8,393.8 130.6,393.8 131.4,393.8 132.2,393.7 133,393.7 133.8,393.7 134.7,393.7 135.5,393.8 136.3,393.9 137.1,393.7 137.9,393.6 138.7,393.5 139.5,393.6 140.3,393.5 141.2,393.5 142,393.6 142.8,393.7 143.6,393.7 144.4,393.5 145.2,393.5 146,393.6 146.8,393.7 147.7,393.6 148.5,393.7 149.3,393.7 150.1,393.6 150.9,393.6 151.7,393.4 152.5,393.4 153.3,393.6 154.2,393.5 155,393.4 155.8,393.6 156.6,393.6 157.4,393.5 158.2,393.5 159,393.3 159.8,393.2 160.6,393.3 161.5,393.7 162.3,393.8 163.1,393.8 163.9,393.7 164.7,393.4 165.5,393.4 166.3,393.4 167.1,393 168,393.1 168.8,393.5 169.6,393.5 170.4,393.5 171.2,393.5 172,393.4 172.8,393.2 173.6,393.2 174.5,393.2 175.3,393.1 176.1,393.4 176.9,393.4 177.7,393.3 178.5,393.2 179.3,393.4 180.1,393.2 181,392.9 181.8,393.2 182.6,393.2 183.4,393 184.2,393.1 185,393.2 185.8,393.2 186.6,393.1 187.5,393.1 188.3,393 189.1,392.9 189.9,392.9 190.7,393 191.5,393 192.3,392.9 193.1,392.9 194,392.9 194.8,392.8 195.6,392.9 196.4,392.9 197.2,392.8 198,392.7 198.8,392.9 199.6,392.8 200.4,392.7 201.3,392.8 202.1,392.7 202.9,392.6 203.7,392.6 204.5,392.7 205.3,392.8 206.1,392.8 206.9,392.6 207.8,392.5 208.6,392.7 209.4,392.8 210.2,392.7 211,392.7 211.8,392.8 212.6,392.6 213.4,392.6 214.3,392.5 215.1,392.4 215.9,392.4 216.7,392.4 217.5,392.5 218.3,392.4 219.1,392.5 219.9,392.4 220.8,392.3 221.6,392.3 222.4,392.1 223.2,392.2 224,392.4 224.8,392.5 225.6,392.4 226.4,392.1 227.3,392.2 228.1,392 228.9,392 229.7,391.9 230.5,391.6 231.3,391.6 232.1,391.6 232.9,391.7 233.8,391.6 234.6,391.4 235.4,391.4 236.2,391.3 237,391.3 237.8,391.3 238.6,391.2 239.4,391.1 240.2,391 241.1,390.7 241.9,390.4 242.7,390.5 243.5,390.4 244.3,390.1 245.1,390.1 245.9,389.9 246.7,389.6 247.6,389.4 248.4,389.1 249.2,389 250,388.4 250.8,387.8 251.6,387.4 252.4,386.8 253.2,385.9 254.1,384.9 254.9,384 255.7,382.9 256.5,381.5 257.3,380.1 258.1,378.9 258.9,377.7 259.7,376.4 260.6,375.4 261.4,374.8 262.2,374.5 263,374.8 263.8,375.2 264.6,375.7 265.4,376.7 266.2,377.8 267.1,379.1 267.9,380.1 268.7,381 269.5,382 270.3,382.9 271.1,383.4 271.9,383.7 272.7,383.9 273.6,384.3 274.4,384.4 275.2,384.3 276,384 276.8,383.5 277.6,383 278.4,382.6 279.2,381.9 280,381.2 280.9,380.4 281.7,379.7 282.5,378.8 283.3,377.8 284.1,377 284.9,376.1 285.7,375.4 286.5,374.6 287.4,374.2 288.2,374.3 289,374.4 289.8,374.4 290.6,375 291.4,375.7 292.2,376.5 293,377.4 293.9,378 294.7,378.7 295.5,379.8 296.3,380.6 297.1,381.1 297.9,381.7 298.7,382.3 299.5,382.7 300.4,383.2 301.2,383.7 302,383.9 302.8,384.2 303.6,384.5 304.4,384.4 305.2,384.4 306,384.8 306.9,384.6 307.7,384.4 308.5,384.7 309.3,384.6 310.1,384.5 310.9,384.5 311.7,384.4 312.5,384.3 313.4,384.2 314.2,384.1 315,384 315.8,383.8 316.6,383.5 317.4,383.3 318.2,383.2 319,382.9 319.8,382.6 320.7,382.2 321.5,381.8 322.3,381.4 323.1,380.6 323.9,379.9 324.7,379.2 325.5,378.4 326.3,377.3 327.2,376.2 328,375.1 328.8,373.7 329.6,372.3 330.4,370.5 331.2,368.7 332,367 332.8,365.1 333.7,363.3 334.5,361.1 335.3,358.8 336.1,356.9 336.9,355.1 337.7,353.3 338.5,351.5 339.3,349.9 340.2,348.7 341,347.6 341.8,346.8 342.6,346.2 343.4,345.7 344.2,345.4 345,345.2 345.8,345.4 346.7,345.6 347.5,345.8 348.3,346.3 349.1,347.1 349.9,348 350.7,348.9 351.5,350.1 352.3,351.6 353.2,353.2 354,354.9 354.8,356.8 355.6,358.5 356.4,360.4 357.2,362.3 358,364.2 358.8,366 359.6,367.7 360.5,369.4 361.3,370.8 362.1,372 362.9,373.2 363.7,374.3 364.5,375.4 365.3,376.4 366.1,377.3 367,377.7 367.8,378.4 368.6,378.9 369.4,379.4 370.2,380 371,380.2 371.8,380.3 372.6,380.6 373.5,380.9 374.3,381 375.1,381.2 375.9,381.3 376.7,381.4 377.5,381.7 378.3,381.9 379.1,381.9 380,381.9 380.8,382.2 381.6,382.4 382.4,382.2 383.2,382.2 384,382.5 384.8,382.5 385.6,382.6 386.5,382.7 387.3,382.7 388.1,382.6 388.9,382.9 389.7,382.9 390.5,382.6 391.3,382.6 392.1,382.9 393,383 393.8,383.2 394.6,383.3 395.4,383.2 396.2,383.4 397,383.5 397.8,383.5 398.6,383.3 399.4,383.5 400.3,383.7 401.1,383.8 401.9,383.9 402.7,384 403.5,384.1 404.3,384.2 405.1,384.2 405.9,384.3 406.8,384.4 407.6,384.5 408.4,384.4 409.2,384.5 410,384.7"/>
<polyline fill="none" stroke="#cfa21c" stroke-width="2.5" stroke-linejoin="round" stroke-linecap="round" points="100.5,419.9 101.4,419.6 102.2,419.8 103,420 103.8,419.7 104.6,419.5 105.4,419.8 106.2,419.7 107,419.6 107.9,419.7 108.7,419.6 109.5,419.6 110.3,419.7 111.1,419.9 111.9,419.5 112.7,419.5 113.5,419.9 114.3,419.8 115.2,419.9 116,419.4 116.8,419.4 117.6,419.3 118.4,418.8 119.2,419.1 120,419.4 120.8,419.4 121.7,419.2 122.5,419.2 123.3,418.8 124.1,418.7 124.9,419.4 125.7,418.8 126.5,418.1 127.3,418.6 128.2,418.4 129,418.3 129.8,418.5 130.6,418.4 131.4,418.2 132.2,417.9 133,417.9 133.8,417.9 134.7,417.3 135.5,417.7 136.3,417.7 137.1,416.9 137.9,416.5 138.7,416.5 139.5,416.6 140.3,416.2 141.2,416.5 142,416.6 142.8,416.3 143.6,416.3 144.4,416.5 145.2,416.4 146,416.1 146.8,416.3 147.7,416.3 148.5,416.3 149.3,416.7 150.1,416.5 150.9,416.3 151.7,417.2 152.5,417.1 153.3,416.7 154.2,417.1 155,417.3 155.8,417.6 156.6,417.8 157.4,417.9 158.2,417.8 159,417.4 159.8,417.4 160.6,417.9 161.5,418.1 162.3,418.3 163.1,418.1 163.9,417.7 164.7,417.6 165.5,417.9 166.3,418.3 167.1,418.4 168,418.4 168.8,418 169.6,417.7 170.4,418.1 171.2,418.3 172,418.4 172.8,418.1 173.6,418 174.5,417.7 175.3,417.5 176.1,418.1 176.9,418.2 177.7,418.4 178.5,418.4 179.3,418.2 180.1,418.4 181,418.3 181.8,418.4 182.6,418.5 183.4,418.3 184.2,418.5 185,418.3 185.8,418.3 186.6,418.5 187.5,418.3 188.3,418.7 189.1,418.6 189.9,418.2 190.7,418.6 191.5,418.7 192.3,418.7 193.1,418.3 194,418 194.8,418.4 195.6,418.7 196.4,418.5 197.2,418.2 198,418.8 198.8,418.9 199.6,418.6 200.4,418.4 201.3,418.6 202.1,418.2 202.9,417.8 203.7,418 204.5,418.2 205.3,418.3 206.1,417.8 206.9,417.8 207.8,418 208.6,418.6 209.4,418.7 210.2,418.3 211,418.2 211.8,417.8 212.6,417.7 213.4,417.9 214.3,418.4 215.1,417.9 215.9,417.6 216.7,418 217.5,418.2 218.3,417.9 219.1,417.9 219.9,417.7 220.8,417.4 221.6,417.5 222.4,417.3 223.2,417.6 224,417.7 224.8,418 225.6,417.8 226.4,417 227.3,417.2 228.1,417.4 228.9,417 229.7,417.1 230.5,417.4 231.3,416.8 232.1,416.3 232.9,416.8 233.8,416.7 234.6,416.7 235.4,416.8 236.2,416.4 237,416.4 237.8,416 238.6,415.8 239.4,415.7 240.2,415.6 241.1,415.8 241.9,415.9 242.7,415.4 243.5,415.2 244.3,415.4 245.1,415.1 245.9,414.5 246.7,414.4 247.6,414.1 248.4,413.3 249.2,413.4 250,413 250.8,412 251.6,411.7 252.4,410.8 253.2,410.3 254.1,409.8 254.9,408.4 255.7,406.5 256.5,405.3 257.3,404 258.1,403 258.9,402.7 259.7,402 260.6,401.9 261.4,402 262.2,402 263,402.7 263.8,404.1 264.6,404.7 265.4,405.6 266.2,406.8 267.1,408.2 267.9,409 268.7,408.7 269.5,409.8 270.3,411 271.1,410.9 271.9,410.9 272.7,410.9 273.6,410.9 274.4,411.3 275.2,411.2 276,410.7 276.8,410.2 277.6,410 278.4,410 279.2,409.5 280,408.1 280.9,407.1 281.7,406.5 282.5,405.6 283.3,405.1 284.1,405 284.9,404.4 285.7,403.4 286.5,402.9 287.4,403 288.2,402.9 289,403.3 289.8,404.4 290.6,404.7 291.4,405.6 292.2,407.1 293,407.3 293.9,407.7 294.7,408.4 295.5,408.7 296.3,409.5 297.1,410.2 297.9,410.2 298.7,410.1 299.5,410.7 300.4,411 301.2,410.8 302,411.2 302.8,411.5 303.6,411.7 304.4,412.2 305.2,411.9 306,411.8 306.9,411.7 307.7,411.4 308.5,411.8 309.3,412.3 310.1,411.6 310.9,411.4 311.7,411.6 312.5,411.2 313.4,411.2 314.2,411.4 315,411.7 315.8,411.1 316.6,410.3 317.4,409.8 318.2,409.1 319,408.7 319.8,409 320.7,408.6 321.5,407.7 322.3,407.5 323.1,407.1 323.9,406.4 324.7,405.7 325.5,405.1 326.3,404.8 327.2,404.2 328,403 328.8,401.7 329.6,400.6 330.4,399.6 331.2,398.1 332,396.5 332.8,395.3 333.7,393.9 334.5,392.1 335.3,390.7 336.1,389.2 336.9,387.4 337.7,386.2 338.5,384.9 339.3,383 340.2,381.6 341,380.7 341.8,379.4 342.6,377.6 343.4,376.6 344.2,376.8 345,376.9 345.8,377.3 346.7,377.8 347.5,378.1 348.3,379 349.1,380 349.9,381.3 350.7,382.4 351.5,384 352.3,385.8 353.2,387.2 354,388.8 354.8,389.8 355.6,391.4 356.4,393.2 357.2,394.7 358,396 358.8,397.4 359.6,398.4 360.5,399.1 361.3,400.2 362.1,401.2 362.9,402.1 363.7,403.2 364.5,404 365.3,404.6 366.1,405.3 367,406.1 367.8,406.6 368.6,407 369.4,407.4 370.2,407.8 371,408 371.8,407.6 372.6,407.6 373.5,408.7 374.3,408.5 375.1,408.4 375.9,408.9 376.7,409.3 377.5,409.6 378.3,409.3 379.1,409.4 380,409.1 380.8,409.7 381.6,410.2 382.4,409.7 383.2,409.5 384,409.8 384.8,409.9 385.6,409.6 386.5,410 387.3,410.2 388.1,410.1 388.9,410.4 389.7,410.2 390.5,410.3 391.3,410.8 392.1,410.2 393,409.8 393.8,410 394.6,410.4 395.4,410.3 396.2,410.2 397,410.3 397.8,410.3 398.6,410.4 399.4,410.9 400.3,411.2 401.1,410.7 401.9,410.3 402.7,410.4 403.5,410.4 404.3,410.5 405.1,410.8 405.9,411.1 406.8,410.7 407.6,410.8 408.4,410.8 409.2,410.5 410,410.8"/>
<polyline fill="none" stroke="#ae80e4" stroke-width="2.5" stroke-linejoin="round" stroke-linecap="round" points="100.5,446.9 101.4,446.9 102.2,446.1 103,446.5 103.8,447.3 104.6,446.2 105.4,445.6 106.2,445.5 107,444.9 107.9,446.4 108.7,446.9 109.5,446.3 110.3,446.5 111.1,446.2 111.9,445.4 112.7,444.7 113.5,445.4 114.3,446.4 115.2,445.1 116,443.9 116.8,444.7 117.6,445.6 118.4,445.9 119.2,445.7 120,445.4 120.8,444.4 121.7,444 122.5,445.1 123.3,445.2 124.1,443.8 124.9,444.3 125.7,445.1 126.5,444.7 127.3,445.4 128.2,444.6 129,443.2 129.8,442.1 130.6,442.5 131.4,444.1 132.2,444 133,443.7 133.8,444.2 134.7,444.4 135.5,444.2 136.3,443.9 137.1,443.7 137.9,444.3 138.7,444.3 139.5,443.5 140.3,443.3 141.2,443.5 142,443.9 142.8,444.3 143.6,444.3 144.4,443.9 145.2,443 146,443.5 146.8,443.9 147.7,443.5 148.5,444.7 149.3,445 150.1,444 150.9,444.2 151.7,444.6 152.5,444 153.3,444.8 154.2,445.5 155,446.5 155.8,445.6 156.6,444 157.4,444.8 158.2,445.6 159,445.3 159.8,445.5 160.6,445.7 161.5,444.6 162.3,444.5 163.1,444.9 163.9,445 164.7,444.7 165.5,444.7 166.3,445.6 167.1,446.3 168,446.8 168.8,445.9 169.6,444.4 170.4,446 171.2,446.8 172,446 172.8,445.3 173.6,445.4 174.5,445.9 175.3,445.7 176.1,446.3 176.9,445.9 177.7,445.3 178.5,444.8 179.3,445 180.1,445.3 181,446.1 181.8,445.9 182.6,445.9 183.4,446.1 184.2,444.4 185,445 185.8,446 186.6,445.4 187.5,444.6 188.3,443.8 189.1,444.3 189.9,445.8 190.7,444.9 191.5,444.8 192.3,446.7 193.1,445.7 194,445.2 194.8,446.4 195.6,445.8 196.4,445.6 197.2,445.4 198,445.5 198.8,446.9 199.6,446.5 200.4,445.3 201.3,444.4 202.1,445.7 202.9,447.8 203.7,446.5 204.5,445.6 205.3,445.8 206.1,446.5 206.9,445.7 207.8,445.3 208.6,445 209.4,445 210.2,445.8 211,446.1 211.8,446.8 212.6,445.7 213.4,445.1 214.3,444.7 215.1,446 215.9,447.2 216.7,446 217.5,444.7 218.3,445.3 219.1,446 219.9,445.4 220.8,445.5 221.6,446.1 222.4,445.9 223.2,445.9 224,445.8 224.8,445.6 225.6,445.2 226.4,445.4 227.3,445.7 228.1,445.1 228.9,445 229.7,445 230.5,444.7 231.3,445 232.1,445.4 232.9,444.2 233.8,443.5 234.6,444.3 235.4,443.7 236.2,443.8 237,444.1 237.8,443.5 238.6,442.5 239.4,441.9 240.2,442.8 241.1,444.4 241.9,443.9 242.7,441.7 243.5,442.5 244.3,443.5 245.1,443.3 245.9,442.7 246.7,442.3 247.6,442.6 248.4,441.2 249.2,440.6 250,441 250.8,440.3 251.6,440.4 252.4,440.2 253.2,439.5 254.1,438.9 254.9,438.1 255.7,437.7 256.5,435.6 257.3,434.2 258.1,434.7 258.9,433.7 259.7,433.2 260.6,433.1 261.4,431.1 262.2,429.9 263,430.1 263.8,429.5 264.6,430.1 265.4,431.1 266.2,430.7 267.1,430.4 267.9,430.5 268.7,431.2 269.5,432.8 270.3,433.3 271.1,434 271.9,436.1 272.7,435.3 273.6,434 274.4,435.4 275.2,436 276,434.9 276.8,434.5 277.6,434.7 278.4,434.8 279.2,433.9 280,432.9 280.9,432.7 281.7,432.5 282.5,431.9 283.3,430.3 284.1,429.2 284.9,430.1 285.7,430.2 286.5,429.3 287.4,429.5 288.2,429.6 289,430.5 289.8,430.6 290.6,430.8 291.4,431.5 292.2,431.8 293,431.6 293.9,431.8 294.7,433.5 295.5,434.2 296.3,434.1 297.1,434.7 297.9,434.7 298.7,434.9 299.5,436 300.4,436.4 301.2,435.9 302,437.1 302.8,438.4 303.6,438.2 304.4,437.4 305.2,438.1 306,438.9 306.9,437.6 307.7,436.9 308.5,437 309.3,436.4 310.1,437.8 310.9,439.7 311.7,437.8 312.5,437.2 313.4,438.2 314.2,437.9 315,438.3 315.8,438.5 316.6,437.9 317.4,436.9 318.2,437 319,438 319.8,436.7 320.7,435.1 321.5,435.3 322.3,434.9 323.1,434.3 323.9,434.8 324.7,434.7 325.5,433.5 326.3,432.6 327.2,431.6 328,431.2 328.8,430.4 329.6,428.4 330.4,427.4 331.2,426.8 332,426.7 332.8,425.3 333.7,422.9 334.5,422.6 335.3,421.3 336.1,419.3 336.9,417.9 337.7,415.9 338.5,413.4 339.3,411.6 340.2,410.3 341,407.9 341.8,406.9 342.6,406.1 343.4,404.8 344.2,404.4 345,402.5 345.8,401.7 346.7,401.8 347.5,400.9 348.3,402.1 349.1,403.4 349.9,403.1 350.7,404.3 351.5,406.9 352.3,409 353.2,410.9 354,411.8 354.8,412.1 355.6,413.6 356.4,416.3 357.2,418.3 358,420.1 358.8,421.3 359.6,422.4 360.5,423.4 361.3,424.3 362.1,426 362.9,427.7 363.7,427.8 364.5,428 365.3,429.4 366.1,430.7 367,431.6 367.8,433.2 368.6,433.8 369.4,432.7 370.2,432.9 371,433.4 371.8,433.8 372.6,434.6 373.5,435.7 374.3,436.5 375.1,436.3 375.9,435.2 376.7,435.4 377.5,435.6 378.3,435.5 379.1,436.3 380,436.4 380.8,437.4 381.6,437.5 382.4,436.3 383.2,436.3 384,437 384.8,436.4 385.6,435.7 386.5,436 387.3,436.1 388.1,435.8 388.9,435.9 389.7,437.3 390.5,437.1 391.3,437.2 392.1,437.3 393,436.7 393.8,436.5 394.6,436.9 395.4,437.8 396.2,437.6 397,437.9 397.8,437.6 398.6,438.1 399.4,438.4 400.3,437.1 401.1,436.9 401.9,437.3 402.7,436.9 403.5,436.4 404.3,437.9 405.1,438.7 405.9,438.4 406.8,439.4 407.6,439.3 408.4,437.7 409.2,437.8 410,437.8"/>
<polyline fill="none" stroke="#2eaa66" stroke-width="2.5" stroke-linejoin="round" stroke-linecap="round" points="100.5,471.4 101.4,471.2 102.2,471 103,471 103.8,470.8 104.6,470.8 105.4,471 106.2,471.2 107,470.9 107.9,470.9 108.7,471.2 109.5,471.4 110.3,471.4 111.1,471.2 111.9,471 112.7,471.1 113.5,471.3 114.3,471.3 115.2,471.1 116,471 116.8,470.8 117.6,470.8 118.4,471.2 119.2,471.1 120,470.9 120.8,471.1 121.7,471 122.5,471.1 123.3,471.1 124.1,471 124.9,470.9 125.7,470.8 126.5,471.1 127.3,470.8 128.2,470.7 129,470.6 129.8,470.4 130.6,470.8 131.4,470.7 132.2,470.6 133,470.9 133.8,470.8 134.7,470.4 135.5,470.4 136.3,470.8 137.1,470.7 137.9,470.6 138.7,470.5 139.5,470.3 140.3,470.2 141.2,470.7 142,470.9 142.8,470.7 143.6,470.5 144.4,470.3 145.2,470.4 146,470.5 146.8,470.4 147.7,470.3 148.5,470.3 149.3,470.3 150.1,470.2 150.9,470.4 151.7,470.1 152.5,470 153.3,470.1 154.2,469.7 155,469.6 155.8,469.8 156.6,470.1 157.4,470.4 158.2,470.6 159,470.3 159.8,470 160.6,470 161.5,470.2 162.3,470.3 163.1,470.1 163.9,469.9 164.7,470.1 165.5,470 166.3,469.7 167.1,469.9 168,470 168.8,469.8 169.6,469.9 170.4,470 171.2,469.7 172,469.6 172.8,469.7 173.6,469.7 174.5,469.8 175.3,469.7 176.1,469.6 176.9,470 177.7,470 178.5,469.8 179.3,469.9 180.1,469.4 181,469.5 181.8,469.7 182.6,469.6 183.4,469.8 184.2,469.7 185,469.5 185.8,469.3 186.6,469.3 187.5,469.5 188.3,469.4 189.1,469.5 189.9,469.3 190.7,469.2 191.5,469.6 192.3,469.4 193.1,468.9 194,469.2 194.8,469.5 195.6,469.3 196.4,469.1 197.2,468.9 198,468.8 198.8,468.9 199.6,469 200.4,468.9 201.3,468.7 202.1,468.7 202.9,468.7 203.7,468.4 204.5,468.3 205.3,468.3 206.1,468.5 206.9,468.6 207.8,468.6 208.6,468.7 209.4,468.8 210.2,468.8 211,468.6 211.8,468.4 212.6,467.9 213.4,468.1 214.3,468.4 215.1,468.2 215.9,467.9 216.7,467.8 217.5,467.7 218.3,467.9 219.1,467.9 219.9,467.7 220.8,467.7 221.6,467.4 222.4,467.5 223.2,467.6 224,467.1 224.8,467.2 225.6,467.4 226.4,467 227.3,466.7 228.1,466.5 228.9,466.4 229.7,466.6 230.5,466.5 231.3,466.6 232.1,466.6 232.9,466.5 233.8,466.3 234.6,466.2 235.4,466.2 236.2,466.1 237,466 237.8,465.9 238.6,465.8 239.4,466 240.2,466 241.1,465.8 241.9,465.9 242.7,465.7 243.5,465.6 244.3,465.4 245.1,465.1 245.9,464.9 246.7,464.6 247.6,464.3 248.4,464.5 249.2,464.3 250,463.7 250.8,463.5 251.6,462.6 252.4,462 253.2,461.8 254.1,461 254.9,460.1 255.7,459.1 256.5,458.3 257.3,457.6 258.1,456.5 258.9,455.4 259.7,454.6 260.6,453.9 261.4,453.5 262.2,453.5 263,453.9 263.8,454.2 264.6,455.1 265.4,456.2 266.2,457.1 267.1,458 267.9,458.7 268.7,459.4 269.5,460.2 270.3,460.6 271.1,461.2 271.9,461.8 272.7,462 273.6,461.9 274.4,462 275.2,462 276,461.6 276.8,461.3 277.6,461.1 278.4,460.6 279.2,460.1 280,459.6 280.9,459 281.7,458.6 282.5,458.2 283.3,457.4 284.1,456.3 284.9,455.9 285.7,455.4 286.5,454.9 287.4,454.8 288.2,454.7 289,454.7 289.8,454.7 290.6,455.3 291.4,456 292.2,456.3 293,457 293.9,457.7 294.7,458.7 295.5,459.5 296.3,459.6 297.1,460.1 297.9,460.6 298.7,460.9 299.5,461.3 300.4,461.7 301.2,462.2 302,462.4 302.8,462.5 303.6,462.7 304.4,463 305.2,463 306,463.1 306.9,463.4 307.7,463 308.5,462.8 309.3,462.9 310.1,462.9 310.9,463.1 311.7,463.1 312.5,462.7 313.4,462.5 314.2,462.5 315,462.6 315.8,462.4 316.6,461.9 317.4,461.7 318.2,461.5 319,461 319.8,460.6 320.7,460.3 321.5,459.9 322.3,459.4 323.1,459 323.9,458.6 324.7,458.2 325.5,457.4 326.3,456.3 327.2,455.5 328,454.9 328.8,454 329.6,452.9 330.4,451.3 331.2,449.8 332,449.2 332.8,447.8 333.7,446.2 334.5,444.6 335.3,442.7 336.1,441.3 336.9,440 337.7,438.3 338.5,437.1 339.3,435.4 340.2,433.7 341,432.7 341.8,431.8 342.6,430.7 343.4,429.9 344.2,429.6 345,429.2 345.8,429.4 346.7,429.9 347.5,430.4 348.3,431.2 349.1,432.4 349.9,433.4 350.7,434.7 351.5,436.3 352.3,437.6 353.2,439.2 354,440.9 354.8,442.5 355.6,443.9 356.4,445.4 357.2,446.9 358,448 358.8,449.3 359.6,450.7 360.5,451.7 361.3,452.9 362.1,454.2 362.9,454.5 363.7,455.1 364.5,456 365.3,456.4 366.1,457.3 367,458 367.8,458.3 368.6,458.8 369.4,459.2 370.2,459.2 371,459.5 371.8,460.1 372.6,460.4 373.5,460.5 374.3,460.7 375.1,460.5 375.9,460.4 376.7,460.9 377.5,461.2 378.3,461.5 379.1,461.7 380,461.5 380.8,461.6 381.6,461.3 382.4,461.1 383.2,461.4 384,461.2 384.8,461.3 385.6,461.5 386.5,461.5 387.3,461.9 388.1,461.8 388.9,461.6 389.7,461.8 390.5,461.7 391.3,461.8 392.1,462 393,461.6 393.8,461.6 394.6,462 395.4,461.9 396.2,461.8 397,461.8 397.8,461.6 398.6,461.7 399.4,461.9 400.3,461.8 401.1,461.3 401.9,461.5 402.7,461.8 403.5,461.7 404.3,461.6 405.1,461.4 405.9,461.1 406.8,460.9 407.6,461.1 408.4,461 409.2,460.6 410,460.6"/>
<polyline fill="none" stroke="#1f63d8" stroke-width="2.5" stroke-linejoin="round" stroke-linecap="round" points="100.5,493.8 101.4,493.9 102.2,493.8 103,493.6 103.8,493.6 104.6,493.6 105.4,493.6 106.2,493.9 107,493.7 107.9,493.6 108.7,493.7 109.5,493.6 110.3,493.9 111.1,493.8 111.9,493.6 112.7,493.6 113.5,493.7 114.3,493.7 115.2,493.7 116,493.8 116.8,493.9 117.6,493.7 118.4,493.7 119.2,494.1 120,493.6 120.8,493.3 121.7,493.6 122.5,493.7 123.3,493.6 124.1,493.9 124.9,494 125.7,493.5 126.5,493.7 127.3,493.9 128.2,493.8 129,493.8 129.8,493.8 130.6,493.7 131.4,493.7 132.2,493.5 133,493.5 133.8,493.5 134.7,493.5 135.5,493.7 136.3,493.7 137.1,493.7 137.9,493.6 138.7,493.6 139.5,493.7 140.3,493.9 141.2,494 142,494 142.8,493.8 143.6,493.8 144.4,494 145.2,493.8 146,493.6 146.8,493.7 147.7,493.7 148.5,493.8 149.3,493.9 150.1,493.7 150.9,493.5 151.7,493.5 152.5,493.6 153.3,493.6 154.2,493.8 155,493.8 155.8,493.8 156.6,493.7 157.4,493.6 158.2,493.4 159,493.5 159.8,493.9 160.6,493.8 161.5,493.6 162.3,493.6 163.1,493.7 163.9,493.6 164.7,493.9 165.5,493.9 166.3,493.6 167.1,493.6 168,493.7 168.8,493.5 169.6,493.5 170.4,493.7 171.2,493.7 172,493.7 172.8,493.7 173.6,493.4 174.5,493.4 175.3,493.5 176.1,493.5 176.9,493.6 177.7,493.5 178.5,493.5 179.3,493.5 180.1,493.6 181,493.6 181.8,493.4 182.6,493.5 183.4,493.7 184.2,493.4 185,493.5 185.8,493.7 186.6,493.6 187.5,493.7 188.3,493.8 189.1,493.8 189.9,493.6 190.7,493.6 191.5,493.7 192.3,493.5 193.1,493.4 194,493.5 194.8,493.5 195.6,493.5 196.4,493.6 197.2,493.6 198,493.7 198.8,493.6 199.6,493.6 200.4,493.6 201.3,493.8 202.1,494 202.9,493.8 203.7,493.5 204.5,493.5 205.3,493.5 206.1,493.5 206.9,493.5 207.8,493.4 208.6,493.4 209.4,493.2 210.2,493.4 211,493.6 211.8,493.2 212.6,493.4 213.4,493.5 214.3,493.6 215.1,493.5 215.9,493.4 216.7,493.4 217.5,493.4 218.3,493.4 219.1,493.3 219.9,493.3 220.8,493.3 221.6,493.5 222.4,493.5 223.2,493.4 224,493.4 224.8,493.3 225.6,493.2 226.4,493 227.3,493.2 228.1,493.2 228.9,492.8 229.7,492.8 230.5,492.9 231.3,492.9 232.1,492.9 232.9,492.9 233.8,492.9 234.6,492.6 235.4,492.4 236.2,492.3 237,492.3 237.8,492 238.6,492.1 239.4,492.2 240.2,492.1 241.1,492.3 241.9,492.3 242.7,492.2 243.5,491.9 244.3,491.7 245.1,491.7 245.9,491.8 246.7,491.4 247.6,491.2 248.4,491.2 249.2,490.7 250,489.9 250.8,489.4 251.6,489 252.4,488.8 253.2,488 254.1,486.7 254.9,485.9 255.7,484.6 256.5,483 257.3,481.9 258.1,480.6 258.9,479 259.7,477.7 260.6,476.7 261.4,475.9 262.2,475.8 263,476 263.8,476.7 264.6,477.4 265.4,478.4 266.2,479.8 267.1,481.1 267.9,482.4 268.7,483.6 269.5,484.7 270.3,485.7 271.1,486.3 271.9,486.7 272.7,486.8 273.6,486.9 274.4,487.2 275.2,487.1 276,486.8 276.8,486.6 277.6,486.1 278.4,485.4 279.2,484.8 280,484.3 280.9,483.6 281.7,482.5 282.5,481.4 283.3,480.6 284.1,479.9 284.9,479.1 285.7,478.5 286.5,478.3 287.4,478.1 288.2,478.2 289,478.3 289.8,478.8 290.6,479.6 291.4,480.2 292.2,480.9 293,481.5 293.9,482.4 294.7,483.3 295.5,483.9 296.3,484.4 297.1,485.1 297.9,485.9 298.7,486.5 299.5,487 300.4,487.3 301.2,487.3 302,487.7 302.8,488 303.6,488.2 304.4,488.3 305.2,488.3 306,488.2 306.9,488.3 307.7,488.3 308.5,488.1 309.3,488.1 310.1,488 310.9,487.9 311.7,487.8 312.5,487.9 313.4,487.8 314.2,487.6 315,487.4 315.8,486.9 316.6,486.8 317.4,486.5 318.2,486 319,485.8 319.8,485.3 320.7,484.8 321.5,484.5 322.3,484.3 323.1,483.8 323.9,482.9 324.7,482 325.5,481.3 326.3,480.6 327.2,479.2 328,478.4 328.8,477.5 329.6,476 330.4,474.7 331.2,473.3 332,471.7 332.8,470.1 333.7,468.5 334.5,466.9 335.3,465 336.1,462.9 336.9,461.1 337.7,459.6 338.5,457.8 339.3,455.9 340.2,454.5 341,453.1 341.8,452.1 342.6,451.2 343.4,450.7 344.2,450.5 345,450.5 345.8,450.6 346.7,451.2 347.5,452.2 348.3,453.2 349.1,454.6 349.9,456.4 350.7,457.8 351.5,459.4 352.3,461.5 353.2,463.3 354,464.8 354.8,466.4 355.6,468.1 356.4,469.8 357.2,471.3 358,472.8 358.8,474.1 359.6,475.3 360.5,476.4 361.3,477.5 362.1,478.5 362.9,479.7 363.7,480.4 364.5,480.9 365.3,481.6 366.1,482.2 367,482.8 367.8,483.4 368.6,483.8 369.4,483.8 370.2,484.3 371,484.9 371.8,485 372.6,485 373.5,485.3 374.3,485.7 375.1,485.8 375.9,485.8 376.7,486.2 377.5,486.3 378.3,486.2 379.1,486.6 380,486.9 380.8,486.7 381.6,486.7 382.4,486.8 383.2,486.8 384,486.9 384.8,487.2 385.6,487.1 386.5,487 387.3,487.1 388.1,487.1 388.9,487.1 389.7,487.3 390.5,487.1 391.3,487 392.1,487.4 393,487.3 393.8,487.2 394.6,487.8 395.4,488 396.2,487.7 397,487.6 397.8,487.6 398.6,487.6 399.4,487.3 400.3,487.5 401.1,487.7 401.9,487.6 402.7,487.7 403.5,487.8 404.3,487.9 405.1,488.1 405.9,488.1 406.8,487.9 407.6,487.7 408.4,487.7 409.2,487.8 410,487.9"/>
<polyline fill="none" stroke="#ee3a43" stroke-width="2.5" stroke-linejoin="round" stroke-linecap="round" points="100.5,517.9 101.4,517.6 102.2,517.6 103,518 103.8,517.8 104.6,517.8 105.4,517.8 106.2,517.5 107,517.4 107.9,517.7 108.7,517.8 109.5,517.5 110.3,517.6 111.1,517.7 111.9,517.4 112.7,517.3 113.5,517.4 114.3,517.9 115.2,518 116,517.9 116.8,517.9 117.6,517.6 118.4,517.4 119.2,517.5 120,517.9 120.8,517.8 121.7,517.6 122.5,517.6 123.3,517.5 124.1,517.6 124.9,517.7 125.7,517.4 126.5,517.1 127.3,517.2 128.2,517 129,517.3 129.8,517.7 130.6,517.5 131.4,517.3 132.2,517.1 133,517.2 133.8,517.4 134.7,517.2 135.5,517.1 136.3,517.3 137.1,517.2 137.9,517.1 138.7,517 139.5,517 140.3,517 141.2,517 142,517 142.8,517.1 143.6,517 144.4,517 145.2,517.2 146,517.1 146.8,516.7 147.7,516.7 148.5,517 149.3,516.8 150.1,516.7 150.9,516.8 151.7,517.2 152.5,517 153.3,516.6 154.2,516.8 155,517 155.8,517 156.6,517.1 157.4,517.1 158.2,516.8 159,516.8 159.8,516.8 160.6,517 161.5,516.9 162.3,516.6 163.1,516.8 163.9,516.8 164.7,516.7 165.5,516.9 166.3,516.8 167.1,516.5 168,516.4 168.8,516.6 169.6,516.6 170.4,516.5 171.2,516.4 172,516.5 172.8,516.8 173.6,516.6 174.5,516.7 175.3,516.9 176.1,516.8 176.9,516.9 177.7,517 178.5,516.9 179.3,516.8 180.1,516.6 181,516.4 181.8,516.4 182.6,516.4 183.4,516.2 184.2,516.3 185,516.1 185.8,516.4 186.6,516.6 187.5,516.1 188.3,516 189.1,516.1 189.9,516.2 190.7,516.3 191.5,516.3 192.3,516.3 193.1,516.4 194,516.2 194.8,516.1 195.6,516.1 196.4,516.2 197.2,516.2 198,515.9 198.8,515.8 199.6,515.9 200.4,516.2 201.3,516.4 202.1,516.2 202.9,515.9 203.7,515.6 204.5,515.9 205.3,516.2 206.1,516 206.9,515.8 207.8,516 208.6,516.1 209.4,515.8 210.2,515.6 211,515.7 211.8,515.8 212.6,515.8 213.4,515.7 214.3,515.7 215.1,516 215.9,516 216.7,515.7 217.5,515.7 218.3,515.6 219.1,515.8 219.9,515.8 220.8,515.6 221.6,515.5 222.4,515.7 223.2,515.9 224,515.6 224.8,515.3 225.6,515.5 226.4,515.5 227.3,515.2 228.1,515.1 228.9,515.4 229.7,515.3 230.5,515 231.3,515.1 232.1,515 232.9,515.1 233.8,515.1 234.6,515 235.4,515.1 236.2,514.9 237,514.5 237.8,514.5 238.6,514.5 239.4,514.5 240.2,514.7 241.1,514.5 241.9,514.4 242.7,514.6 243.5,514.1 244.3,514.1 245.1,514.3 245.9,514 246.7,513.9 247.6,514.1 248.4,513.9 249.2,513.4 250,513.5 250.8,513.2 251.6,512.6 252.4,512.3 253.2,511.8 254.1,511.2 254.9,510.7 255.7,510.2 256.5,509.5 257.3,508.5 258.1,507.6 258.9,506.9 259.7,506.3 260.6,505.6 261.4,504.8 262.2,504 263,504.2 263.8,504.3 264.6,504.6 265.4,505.5 266.2,506.1 267.1,506.9 267.9,507.5 268.7,508.1 269.5,508.9 270.3,509.8 271.1,510.1 271.9,509.8 272.7,510.1 273.6,510.4 274.4,510.6 275.2,510.7 276,510.4 276.8,510.1 277.6,510.1 278.4,509.9 279.2,509.5 280,509.2 280.9,508.9 281.7,508.6 282.5,508.3 283.3,507.7 284.1,507.4 284.9,506.8 285.7,506.1 286.5,506.3 287.4,506.5 288.2,506.6 289,506.6 289.8,506.9 290.6,507 291.4,507.1 292.2,507.6 293,507.9 293.9,508.4 294.7,509 295.5,509.1 296.3,509.2 297.1,509.5 297.9,509.8 298.7,510.3 299.5,510.7 300.4,510.8 301.2,510.8 302,511 302.8,511.1 303.6,510.9 304.4,510.8 305.2,511.3 306,511.5 306.9,511.1 307.7,511.3 308.5,511.3 309.3,511.1 310.1,511.2 310.9,511 311.7,510.9 312.5,510.8 313.4,510.6 314.2,510.5 315,510.1 315.8,510.1 316.6,510.1 317.4,509.7 318.2,509.4 319,509.1 319.8,508.8 320.7,508.5 321.5,508.2 322.3,507.6 323.1,507.2 323.9,506.5 324.7,505.9 325.5,505.4 326.3,504.8 327.2,503.9 328,503.2 328.8,502.2 329.6,501.1 330.4,499.7 331.2,498.2 332,496.6 332.8,494.8 333.7,493.9 334.5,492.4 335.3,490.5 336.1,488.5 336.9,486.5 337.7,485 338.5,483.2 339.3,481.3 340.2,479.8 341,478.2 341.8,476.4 342.6,475.2 343.4,474.3 344.2,473.8 345,473.5 345.8,473.2 346.7,473.6 347.5,474.3 348.3,474.9 349.1,476 349.9,477.4 350.7,478.9 351.5,480.5 352.3,482.3 353.2,484.1 354,485.7 354.8,487.6 355.6,489.5 356.4,491.1 357.2,492.8 358,494.5 358.8,495.7 359.6,497.3 360.5,498.7 361.3,499.9 362.1,501.2 362.9,502.2 363.7,503.3 364.5,504.1 365.3,504.6 366.1,505.5 367,506 367.8,506.1 368.6,506.7 369.4,507.3 370.2,507.9 371,508.2 371.8,508.3 372.6,508.2 373.5,508.4 374.3,509 375.1,509.1 375.9,509.1 376.7,509.2 377.5,509.2 378.3,509.7 379.1,510.3 380,510 380.8,509.7 381.6,509.7 382.4,509.9 383.2,510.1 384,510.2 384.8,510.3 385.6,510.3 386.5,510.5 387.3,510.9 388.1,510.6 388.9,510.3 389.7,510.5 390.5,510.5 391.3,510.4 392.1,510.2 393,510.3 393.8,510.3 394.6,510.3 395.4,510.6 396.2,510.9 397,511 397.8,510.9 398.6,510.6 399.4,510.8 400.3,511 401.1,510.9 401.9,510.8 402.7,510.8 403.5,511 404.3,511.1 405.1,510.9 405.9,510.8 406.8,510.7 407.6,510.8 408.4,510.8 409.2,510.6 410,510.7"/>
<polyline fill="none" stroke="#4b4b4b" stroke-width="2.5" stroke-linejoin="round" stroke-linecap="round" points="100.5,533.7 101.4,533.6 102.2,533.5 103,533.7 103.8,533.6 104.6,533.5 105.4,533.4 106.2,533.5 107,533.7 107.9,534 108.7,533.9 109.5,533.7 110.3,533.5 111.1,533.1 111.9,533.6 112.7,533.7 113.5,533.3 114.3,533.4 115.2,533.4 116,533.3 116.8,533.3 117.6,533.5 118.4,533.7 119.2,533.5 120,533.5 120.8,533.3 121.7,533.3 122.5,533 123.3,533 124.1,533.4 124.9,533.2 125.7,533.8 126.5,534.4 127.3,533.9 128.2,533.3 129,533.4 129.8,533.1 130.6,533.3 131.4,533.5 132.2,533.1 133,533.2 133.8,532.7 134.7,532.7 135.5,532.9 136.3,532.5 137.1,532.6 137.9,532.1 138.7,532 139.5,532.7 140.3,532.7 141.2,532.5 142,532.3 142.8,531.9 143.6,531.7 144.4,531.8 145.2,531.8 146,531.2 146.8,531.6 147.7,531.8 148.5,531.1 149.3,530.9 150.1,530.7 150.9,530.9 151.7,530.9 152.5,530.9 153.3,530.8 154.2,530.3 155,530.3 155.8,530.6 156.6,530.3 157.4,530.4 158.2,530.3 159,530.1 159.8,530.7 160.6,530.9 161.5,531.2 162.3,531.5 163.1,531.5 163.9,531.3 164.7,531.3 165.5,531.5 166.3,531.6 167.1,531.8 168,531.8 168.8,531.8 169.6,531.8 170.4,532.4 171.2,532.1 172,531.6 172.8,532.3 173.6,532.9 174.5,533.1 175.3,533.4 176.1,533.7 176.9,533.5 177.7,533.5 178.5,533.8 179.3,533.7 180.1,533.4 181,533.3 181.8,533.4 182.6,533.9 183.4,534.6 184.2,534.9 185,534.8 185.8,534.6 186.6,534.6 187.5,534.5 188.3,534.2 189.1,534.3 189.9,534.5 190.7,533.9 191.5,533.4 192.3,534 193.1,534.4 194,534.4 194.8,534 195.6,534.1 196.4,534.2 197.2,534.3 198,534.6 198.8,534.6 199.6,533.9 200.4,534.1 201.3,534.5 202.1,534.6 202.9,534.6 203.7,534.2 204.5,534.2 205.3,534 206.1,534 206.9,534.1 207.8,533.8 208.6,533.7 209.4,534.5 210.2,535 211,534.4 211.8,534 212.6,533.5 213.4,533.3 214.3,533.9 215.1,534.1 215.9,533.9 216.7,533.9 217.5,534.2 218.3,534 219.1,533.3 219.9,533.3 220.8,533.6 221.6,533.6 222.4,533.3 223.2,533.7 224,533.3 224.8,532.6 225.6,532.8 226.4,533.3 227.3,533.4 228.1,532.8 228.9,532.9 229.7,532.4 230.5,532.5 231.3,533 232.1,532.8 232.9,532.5 233.8,532.2 234.6,532.6 235.4,532.6 236.2,532.5 237,532.3 237.8,532.4 238.6,532.5 239.4,532.2 240.2,532.3 241.1,532.1 241.9,531.8 242.7,531.2 243.5,530.2 244.3,530.4 245.1,531.1 245.9,531 246.7,530.3 247.6,530 248.4,530.3 249.2,530.1 250,529.1 250.8,528.6 251.6,528.8 252.4,528.3 253.2,527.1 254.1,525.8 254.9,524.5 255.7,523.4 256.5,522.5 257.3,521.3 258.1,519.4 258.9,518.8 259.7,518.5 260.6,517.9 261.4,518.4 262.2,518.2 263,517.5 263.8,518.2 264.6,520.3 265.4,521.8 266.2,522.3 267.1,523.3 267.9,524.2 268.7,524.5 269.5,524.9 270.3,525.8 271.1,526.6 271.9,526.8 272.7,527.1 273.6,527.1 274.4,527.1 275.2,526.8 276,526.5 276.8,526.1 277.6,525.3 278.4,525 279.2,524 280,523.1 280.9,522.4 281.7,520.9 282.5,520.1 283.3,519.7 284.1,518.2 284.9,517 285.7,516.7 286.5,516.2 287.4,515.2 288.2,515.1 289,515.6 289.8,515.5 290.6,516 291.4,517.1 292.2,517.9 293,518.8 293.9,519.9 294.7,521.4 295.5,522.2 296.3,522.5 297.1,523.4 297.9,523.7 298.7,524.5 299.5,525.4 300.4,525.9 301.2,526.2 302,526.5 302.8,526.8 303.6,527 304.4,527.1 305.2,526.8 306,526.9 306.9,526.8 307.7,526.7 308.5,526.4 309.3,526.3 310.1,527 310.9,526.8 311.7,526.6 312.5,527 313.4,527.3 314.2,526.6 315,526.3 315.8,526.8 316.6,526.3 317.4,525.5 318.2,525.4 319,525.2 319.8,524.8 320.7,524.7 321.5,524.6 322.3,524 323.1,522.6 323.9,521.9 324.7,521.3 325.5,520.6 326.3,520.4 327.2,520.2 328,519.2 328.8,517.6 329.6,516.4 330.4,514.9 331.2,513.5 332,512.6 332.8,511.1 333.7,509.4 334.5,508 335.3,505.6 336.1,503.6 336.9,502 337.7,499.9 338.5,498.5 339.3,496.9 340.2,495.3 341,493.9 341.8,492.6 342.6,491.4 343.4,490.6 344.2,491 345,491.4 345.8,491.3 346.7,491.6 347.5,493.1 348.3,494.8 349.1,496.4 349.9,497.5 350.7,498.9 351.5,501.1 352.3,503.4 353.2,505.6 354,506.8 354.8,508.1 355.6,509.8 356.4,511.4 357.2,513.3 358,515 358.8,516.5 359.6,517.9 360.5,519.1 361.3,519.6 362.1,520.2 362.9,521.7 363.7,522.4 364.5,522.9 365.3,523.5 366.1,524.4 367,525.6 367.8,525.5 368.6,525.5 369.4,525.8 370.2,526 371,526.4 371.8,526.9 372.6,527.5 373.5,527.5 374.3,526.9 375.1,527.2 375.9,527.3 376.7,526.9 377.5,527.1 378.3,527.8 379.1,527.7 380,527.9 380.8,527.9 381.6,527.8 382.4,527.8 383.2,527.7 384,527.5 384.8,527.9 385.6,528.5 386.5,528 387.3,527.5 388.1,528 388.9,528 389.7,527.6 390.5,528.2 391.3,528.2 392.1,528.4 393,528.4 393.8,527.9 394.6,528.6 395.4,528.4 396.2,528.5 397,528.7 397.8,528.4 398.6,528.5 399.4,529.4 400.3,529.7 401.1,529.5 401.9,529.4 402.7,529.6 403.5,529.9 404.3,529.3 405.1,529.5 405.9,530.3 406.8,530.4 407.6,530.7 408.4,530.6 409.2,530.2 410,530.5"/>
<rect x="100" y="316.7" width="310.6" height="231.4" fill="none" stroke="#000" stroke-width="2.5"/>
<path d="M154.4 548.1 v4.6 M262.7 548.1 v4.6 M371 548.1 v4.6 M100.2 548.1 v3.2 M208.6 548.1 v3.2 M316.9 548.1 v3.2" stroke="#000" stroke-width="1.8" fill="none"/>
<text x="154.4" y="569.4" font-size="17.6" text-anchor="middle">900</text>
<text x="262.7" y="569.4" font-size="17.6" text-anchor="middle">1000</text>
<text x="371" y="569.4" font-size="17.6" text-anchor="middle">1100</text>
<text x="258.3" y="600.2" font-size="19.2" text-anchor="middle">Raman shift (cm<tspan dy="-7.2" font-size="12.4">-1</tspan><tspan dy="7.2">)</tspan></text>
<text transform="translate(79.8 431.8) rotate(-90)" font-size="18.6" text-anchor="middle">Intensity (a.u.)</text>
<g font-size="11.2">
<text x="112.4" y="386.2">NO</text>
<text x="110.2" y="412.0">GSH</text>
<text x="112.6" y="438.9">&#183;OH</text>
<text x="112.2" y="464.2">TBHP</text>
<text x="113.8" y="489.6"><tspan dy="-4.6" font-size="7.8">1</tspan><tspan dy="4.6">O</tspan><tspan dy="2.8" font-size="7.8">2</tspan></text>
<text x="115.6" y="510.8">H<tspan dy="2.8" font-size="7.8">2</tspan><tspan dy="-2.8">O</tspan><tspan dy="2.8" font-size="7.8">2</tspan></text>
<text x="115.2" y="529.0">Blank</text>
</g>
<text x="44.9" y="313.4" font-size="23.6">C</text>
</g>
<g id="panelD">
<path d="M569 312.9 L573.9 524.5 M603.8 312.9 L608 525.4 M638.2 312.8 L641.7 526.4 M673.3 312.7 L676 527.3 M709.2 312.6 L711.1 528.3 M745.3 312.5 L746.5 529.3 M782.3 312.4 L782.7 530.3 M800.7 480.6 L555.4 475.5 L521.2 500.8 M800.7 429.8 L554.1 426.5 L518.6 446.6 M800.7 377.9 L552.7 376.3 L516 391.3 M800.7 325.5 L551.3 325.7 L513.3 335.4 M531.8 317.1 L540.3 539.1 M540.3 539.1 L795.4 547.4 M573 524.5 L541.8 555 M607.8 525.4 L578.8 556.3 M642.2 526.4 L615.4 557.6 M677.3 527.4 L653.6 559 M713.2 528.4 L692.3 560.4 M749.3 529.4 L730.4 561.8 M786.3 530.4 L770.7 563.3" stroke="#e6e6e6" stroke-width="0.9" fill="none"/>
<path d="M523.8 554.3 L512.6 321.3 L550.9 313 M550.9 313 L801.5 312.3 M550.9 313 L556.8 524 L800.7 530.8 M556.8 524 L523.8 554.3" stroke="#111" stroke-width="1.7" fill="none" stroke-linejoin="round" stroke-linecap="round"/>
<defs>
<linearGradient id="bf0" x1="0" y1="0" x2="1" y2="0"><stop offset="0" stop-color="#9fd3f1"/><stop offset="0.5" stop-color="#a5dbfb"/><stop offset="1" stop-color="#99cbe7"/></linearGradient>
<linearGradient id="bf1" x1="0" y1="0" x2="1" y2="0"><stop offset="0" stop-color="#19a5dc"/><stop offset="0.5" stop-color="#1aace5"/><stop offset="1" stop-color="#189ed3"/></linearGradient>
<linearGradient id="bf2" x1="0" y1="0" x2="1" y2="0"><stop offset="0" stop-color="#eea1c5"/><stop offset="0.5" stop-color="#f8a7cd"/><stop offset="1" stop-color="#e49bbd"/></linearGradient>
<linearGradient id="bf3" x1="0" y1="0" x2="1" y2="0"><stop offset="0" stop-color="#df465b"/><stop offset="0.5" stop-color="#e8495f"/><stop offset="1" stop-color="#d64357"/></linearGradient>
<linearGradient id="bf4" x1="0" y1="0" x2="1" y2="0"><stop offset="0" stop-color="#b5d8a1"/><stop offset="0.5" stop-color="#bce1a7"/><stop offset="1" stop-color="#aecf9b"/></linearGradient>
<linearGradient id="bf5" x1="0" y1="0" x2="1" y2="0"><stop offset="0" stop-color="#2db357"/><stop offset="0.5" stop-color="#2fba5a"/><stop offset="1" stop-color="#2bac54"/></linearGradient>
<linearGradient id="bf6" x1="0" y1="0" x2="1" y2="0"><stop offset="0" stop-color="#f0c191"/><stop offset="0.5" stop-color="#fac997"/><stop offset="1" stop-color="#e6b98b"/></linearGradient>
</defs>
<polygon points="565.6,444.9 573.5,440.8 574.6,533.1 567.9,541" fill="#7aaac6" />
<polygon points="539.6,444.4 565.6,444.9 567.9,541 543,539.9" fill="url(#bf0)" />
<polygon points="539.6,444.4 565.6,444.9 573.5,440.8 546.4,440.4" fill="#b6def4" />
<path d="M565.6 444.9 L567.9 541" stroke="#89b5cf" stroke-width="0.8" fill="none" opacity="0.8"/>
<path d="M553.5 441.6 H559.5 M556.5 441.6 V443.2" stroke="#222" stroke-width="1.5" fill="none"/>
<polygon points="597,344 604.7,338.8 612,534.2 604.5,543.3" fill="#1481b0" />
<polygon points="570.8,342.4 597,344 604.5,543.3 578,543.3" fill="url(#bf1)" />
<polygon points="570.8,342.4 597,344 604.7,338.8 577.1,338.4" fill="#2fb2e4" />
<path d="M597 344 L604.5 543.3" stroke="#168ebd" stroke-width="0.8" fill="none" opacity="0.8"/>
<path d="M583.6 335.2 H592 M587.8 335.2 V340.4" stroke="#222" stroke-width="1.5" fill="none"/>
<path d="M587.8 341.9 V344.6 M584.4 344.6 H591.2" stroke="#1487b4" stroke-width="0.9" fill="none" opacity="0.45"/>
<polygon points="636.9,441.5 643,436.3 645.9,535.4 639.6,543.7" fill="#c583a4" />
<polygon points="611.3,441.5 636.9,441.5 639.6,543.7 614,543.7" fill="url(#bf2)" />
<polygon points="611.3,441.5 636.9,441.5 643,436.3 617,436.3" fill="#f2b6d2" />
<path d="M636.9 441.5 L639.6 543.7" stroke="#cd8aa9" stroke-width="0.8" fill="none" opacity="0.8"/>
<path d="M624.4 437 H630.8 M627.6 437 V438.6" stroke="#222" stroke-width="1.5" fill="none"/>
<polygon points="674.2,449 679.6,443.8 681,537.2 676.5,544.9" fill="#b5394c" />
<polygon points="648.2,449 674.2,449 676.5,544.9 650.2,544.9" fill="url(#bf3)" />
<polygon points="648.2,449 674.2,449 679.6,443.8 653.2,443.8" fill="#e6596c" />
<path d="M674.2 449 L676.5 544.9" stroke="#c03c4e" stroke-width="0.8" fill="none" opacity="0.8"/>
<path d="M660.5 441.6 H667.9 M664.2 441.6 V446.4" stroke="#222" stroke-width="1.5" fill="none"/>
<path d="M664.2 447.9 V450.2 M661.3 450.2 H667.1" stroke="#b7394b" stroke-width="0.9" fill="none" opacity="0.45"/>
<polygon points="712,437.6 716.5,432.4 717.6,538.8 713.1,546" fill="#90b283" />
<polygon points="684.8,437.6 712,437.6 713.1,546 687.1,546" fill="url(#bf4)" />
<polygon points="684.8,437.6 712,437.6 716.5,432.4 689.3,432.4" fill="#c2dfb1" />
<path d="M712 437.6 L713.1 546" stroke="#9cba8a" stroke-width="0.8" fill="none" opacity="0.8"/>
<path d="M696.7 424.6 H704.7 M700.7 424.6 V436" stroke="#222" stroke-width="1.5" fill="none"/>
<path d="M700.7 437.5 V446.4 M697.5 446.4 H703.9" stroke="#94b184" stroke-width="0.9" fill="none" opacity="0.45"/>
<polygon points="750.2,441.5 753.8,435.8 754.3,539.9 750.2,547.1" fill="#258f46" />
<polygon points="722.6,441.5 750.2,441.5 750.2,547.1 723.8,547.1" fill="url(#bf5)" />
<polygon points="722.6,441.5 750.2,441.5 753.8,435.8 726.7,435.8" fill="#3dbd65" />
<path d="M750.2 441.5 L750.2 547.1" stroke="#279a4b" stroke-width="0.8" fill="none" opacity="0.8"/>
<path d="M734 437.2 H741.6 M737.8 437.2 V438.6" stroke="#222" stroke-width="1.5" fill="none"/>
<polygon points="788.2,445.3 791.2,440.8 790.5,542.1 787.8,548.9" fill="#cfa078" />
<polygon points="761.5,445.3 788.2,445.3 787.8,548.9 761.5,548.9" fill="url(#bf6)" />
<polygon points="761.5,445.3 788.2,445.3 791.2,440.8 764.5,440.8" fill="#f5cda6" />
<path d="M788.2 445.3 L787.8 548.9" stroke="#cea67d" stroke-width="0.8" fill="none" opacity="0.8"/>
<path d="M772.7 436.4 H780.3 M776.5 436.4 V444" stroke="#222" stroke-width="1.5" fill="none"/>
<path d="M776.5 445.5 V450.6 M773.5 450.6 H779.5" stroke="#c59e77" stroke-width="0.9" fill="none" opacity="0.45"/>
<path d="M523.8 554.3 L790 564 L800.7 530.8 M800.7 311.7 L800.7 530.8 M800.7 530.8 h5.8 M800.7 480.6 h5.8 M800.7 429.8 h5.8 M800.7 377.9 h5.8 M800.7 325.5 h5.8 M800.7 505.7 h3.2 M800.7 455.2 h3.2 M800.7 403.9 h3.2 M800.7 351.7 h3.2 M541.8 555 l-0.2 5.4 M578.8 556.3 l-0.2 5.4 M615.4 557.6 l-0.2 5.4 M653.6 559 l-0.2 5.4 M692.3 560.4 l-0.2 5.4 M730.4 561.8 l-0.2 5.4 M770.7 563.3 l-0.2 5.4 M523.8 554.3 l-0.1 3.2 M560.2 555.6 l-0.1 3.2 M597.1 557 l-0.1 3.2 M634.4 558.3 l-0.1 3.2 M674 559.8 l-0.1 3.2 M712 561.2 l-0.1 3.2 M750.9 562.6 l-0.1 3.2 M790 564 l-0.1 3.2" stroke="#111" stroke-width="1.7" fill="none" stroke-linejoin="round" stroke-linecap="round"/>
<text x="809.6" y="537.6" font-size="19">0</text>
<text x="809.6" y="487.4" font-size="19">2</text>
<text x="809.6" y="436.6" font-size="19">4</text>
<text x="809.6" y="384.7" font-size="19">6</text>
<text x="809.6" y="332.3" font-size="19">8</text>
<text transform="translate(851.4 423.3) rotate(-90) scale(0.837 1)" font-size="24" text-anchor="middle" stroke="#111" stroke-width="0.5">I<tspan dy="10" font-size="17">1075</tspan><tspan dy="-10">/I</tspan><tspan dy="10" font-size="17">1023</tspan></text>
<text transform="translate(555 574.6) rotate(-27)" font-size="15.2" text-anchor="end" stroke="#111" stroke-width="0.35">Blank</text>
<text transform="translate(593 575.6) rotate(-27)" font-size="15.2" text-anchor="end" stroke="#111" stroke-width="0.35">H<tspan dy="3.4" font-size="11">2</tspan><tspan dy="-3.4">O</tspan><tspan dy="3.4" font-size="11">2</tspan></text>
<text transform="translate(631 582) rotate(-12)" font-size="15.2" text-anchor="end" stroke="#111" stroke-width="0.35"><tspan dy="-4.4" font-size="10.5">1</tspan><tspan dy="4.4">O</tspan><tspan dy="3.4" font-size="11">2</tspan></text>
<text transform="translate(667 579.3) rotate(-27)" font-size="15.2" text-anchor="end" stroke="#111" stroke-width="0.35">TBHP</text>
<text transform="translate(705.4 580.2) rotate(-27)" font-size="15.2" text-anchor="end" stroke="#111" stroke-width="0.35">&#183;OH</text>
<text transform="translate(745.5 582.4) rotate(-27)" font-size="15.2" text-anchor="end" stroke="#111" stroke-width="0.35">GSH</text>
<text transform="translate(784.6 583.1) rotate(-27)" font-size="15.2" text-anchor="end" stroke="#111" stroke-width="0.35">NO</text>
<text x="480.2" y="313.5" font-size="24">D</text>
</g>
</svg></body></html>
